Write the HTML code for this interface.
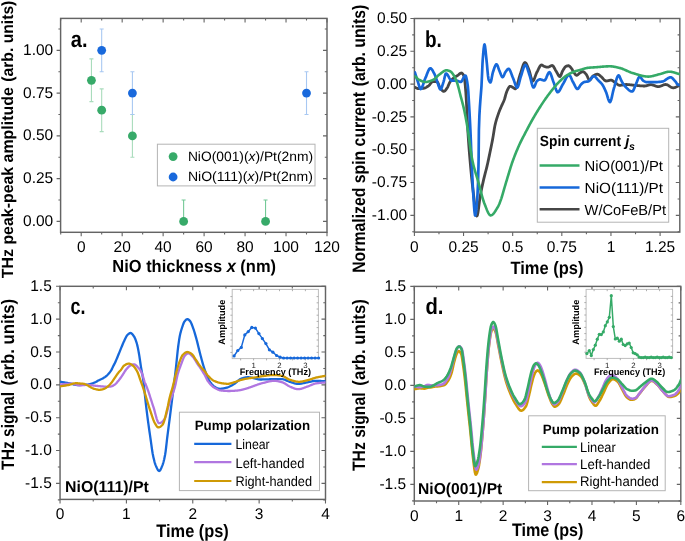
<!DOCTYPE html>
<html><head><meta charset="utf-8"><style>
html,body{margin:0;padding:0;background:#fff;overflow:hidden;}
svg{display:block;will-change:transform;}
text{font-family:"Liberation Sans",sans-serif;text-rendering:geometricPrecision;}
</style></head><body>
<svg width="685" height="541" viewBox="0 0 685 541">
<rect width="685" height="541" fill="#fff"/>
<rect x="60.6" y="18.4" width="266.4" height="213.9" fill="none" stroke="#646464" stroke-width="1.45"/>
<path d="M60.72,232.3 v2.2 M60.72,18.4 v2.2 M81.20,232.3 v4 M81.20,18.4 v4 M101.68,232.3 v2.2 M101.68,18.4 v2.2 M122.17,232.3 v4 M122.17,18.4 v4 M142.65,232.3 v2.2 M142.65,18.4 v2.2 M163.13,232.3 v4 M163.13,18.4 v4 M183.62,232.3 v2.2 M183.62,18.4 v2.2 M204.10,232.3 v4 M204.10,18.4 v4 M224.58,232.3 v2.2 M224.58,18.4 v2.2 M245.06,232.3 v4 M245.06,18.4 v4 M265.55,232.3 v2.2 M265.55,18.4 v2.2 M286.03,232.3 v4 M286.03,18.4 v4 M306.51,232.3 v2.2 M306.51,18.4 v2.2 M327.00,232.3 v4 M327.00,18.4 v4 M60.6,221.40 h-4 M327.0,221.40 h-4 M60.6,200.02 h-2.2 M327.0,200.02 h-2.2 M60.6,178.64 h-4 M327.0,178.64 h-4 M60.6,157.26 h-2.2 M327.0,157.26 h-2.2 M60.6,135.88 h-4 M327.0,135.88 h-4 M60.6,114.49 h-2.2 M327.0,114.49 h-2.2 M60.6,93.11 h-4 M327.0,93.11 h-4 M60.6,71.73 h-2.2 M327.0,71.73 h-2.2 M60.6,50.35 h-4 M327.0,50.35 h-4 M60.6,28.97 h-2.2 M327.0,28.97 h-2.2 " stroke="#646464" stroke-width="1.1" fill="none"/>
<text x="53.2" y="226.0" font-size="15.5" text-anchor="end" fill="#000" textLength="30.17" lengthAdjust="spacingAndGlyphs" >0.00</text>
<text x="53.2" y="183.23749999999998" font-size="15.5" text-anchor="end" fill="#000" textLength="30.17" lengthAdjust="spacingAndGlyphs" >0.25</text>
<text x="53.2" y="140.475" font-size="15.5" text-anchor="end" fill="#000" textLength="30.17" lengthAdjust="spacingAndGlyphs" >0.50</text>
<text x="53.2" y="97.71249999999998" font-size="15.5" text-anchor="end" fill="#000" textLength="30.17" lengthAdjust="spacingAndGlyphs" >0.75</text>
<text x="53.2" y="54.949999999999996" font-size="15.5" text-anchor="end" fill="#000" textLength="30.17" lengthAdjust="spacingAndGlyphs" >1.00</text>
<text x="81.2" y="251.5" font-size="15.5" text-anchor="middle" fill="#000" textLength="8.62" lengthAdjust="spacingAndGlyphs" >0</text>
<text x="122.166" y="251.5" font-size="15.5" text-anchor="middle" fill="#000" textLength="17.24" lengthAdjust="spacingAndGlyphs" >20</text>
<text x="163.132" y="251.5" font-size="15.5" text-anchor="middle" fill="#000" textLength="17.24" lengthAdjust="spacingAndGlyphs" >40</text>
<text x="204.09799999999998" y="251.5" font-size="15.5" text-anchor="middle" fill="#000" textLength="17.24" lengthAdjust="spacingAndGlyphs" >60</text>
<text x="245.06399999999996" y="251.5" font-size="15.5" text-anchor="middle" fill="#000" textLength="17.24" lengthAdjust="spacingAndGlyphs" >80</text>
<text x="286.03" y="251.5" font-size="15.5" text-anchor="middle" fill="#000" textLength="25.86" lengthAdjust="spacingAndGlyphs" >100</text>
<text x="326.996" y="251.5" font-size="15.5" text-anchor="middle" fill="#000" textLength="25.86" lengthAdjust="spacingAndGlyphs" >120</text>
<text x="112.30" y="271.7" font-size="17.4" fill="#000" font-weight="bold" textLength="163.73" lengthAdjust="spacingAndGlyphs">NiO thickness <tspan font-style="italic">x</tspan> (nm)</text>
<text x="0.00" y="0" font-size="16.2" transform="translate(12.9,278.2) rotate(-90)" font-weight="bold" textLength="190.97" lengthAdjust="spacingAndGlyphs">THz peak-peak amplitude</text>
<text x="0.00" y="0" font-size="16.2" transform="translate(12.9,81.7) rotate(-90)" font-weight="bold" textLength="81.03" lengthAdjust="spacingAndGlyphs">(arb. units)</text>
<text x="70.80" y="47.0" font-size="23" fill="#000" font-weight="bold" textLength="16.68" lengthAdjust="spacingAndGlyphs">a.</text>
<clipPath id="ca"><rect x="60.6" y="18.4" width="266.4" height="213.9"/></clipPath>
<g clip-path="url(#ca)">
<path d="M91.44,80.28 V58.90 M89.44,58.90 h4 M91.44,80.28 V101.67 M89.44,101.67 h4 " stroke="#a9dcbc" stroke-width="1.1" fill="none"/>
<path d="M101.68,110.22 V88.84 M99.68,88.84 h4 M101.68,110.22 V131.60 M99.68,131.60 h4 " stroke="#a9dcbc" stroke-width="1.1" fill="none"/>
<path d="M132.41,135.88 V114.49 M130.41,114.49 h4 M132.41,135.88 V157.26 M130.41,157.26 h4 " stroke="#a9dcbc" stroke-width="1.1" fill="none"/>
<path d="M183.62,221.40 V200.02 M181.62,200.02 h4 " stroke="#74c997" stroke-width="1.1" fill="none"/>
<path d="M265.55,221.40 V200.02 M263.55,200.02 h4 " stroke="#74c997" stroke-width="1.1" fill="none"/>
<path d="M101.68,50.35 V28.97 M99.68,28.97 h4 M101.68,50.35 V71.73 M99.68,71.73 h4 " stroke="#a8c8f2" stroke-width="1.1" fill="none"/>
<path d="M132.41,93.11 V71.73 M130.41,71.73 h4 M132.41,93.11 V114.49 M130.41,114.49 h4 " stroke="#a8c8f2" stroke-width="1.1" fill="none"/>
<path d="M306.51,93.11 V71.73 M304.51,71.73 h4 M306.51,93.11 V114.49 M304.51,114.49 h4 " stroke="#a8c8f2" stroke-width="1.1" fill="none"/>
<circle cx="91.44" cy="80.28" r="4.4" fill="#37aa69"/>
<circle cx="101.68" cy="110.22" r="4.4" fill="#37aa69"/>
<circle cx="132.41" cy="135.88" r="4.4" fill="#37aa69"/>
<circle cx="183.62" cy="221.40" r="4.4" fill="#37aa69"/>
<circle cx="265.55" cy="221.40" r="4.4" fill="#37aa69"/>
<circle cx="101.68" cy="50.35" r="4.4" fill="#1969dc"/>
<circle cx="132.41" cy="93.11" r="4.4" fill="#1969dc"/>
<circle cx="306.51" cy="93.11" r="4.4" fill="#1969dc"/>
</g>
<rect x="157.4" y="144.2" width="157.6" height="41.7" fill="#fff" stroke="#b4b4b4" stroke-width="1"/>
<circle cx="173.1" cy="156.6" r="4.4" fill="#37aa69"/>
<circle cx="173.1" cy="177" r="4.4" fill="#1969dc"/>
<text x="187.90" y="160.8" font-size="13.6" fill="#000" textLength="125.13" lengthAdjust="spacingAndGlyphs">NiO(001)(<tspan font-style="italic">x</tspan>)/Pt(2nm)</text>
<text x="187.90" y="180.9" font-size="13.6" fill="#000" textLength="125.08" lengthAdjust="spacingAndGlyphs">NiO(111)(<tspan font-style="italic">x</tspan>)/Pt(2nm)</text>
<rect x="414.4" y="18.5" width="265.4" height="213.6" fill="none" stroke="#646464" stroke-width="1.45"/>
<path d="M414.40,232.1 v4 M414.40,18.5 v4 M438.97,232.1 v2.2 M438.97,18.5 v2.2 M463.54,232.1 v4 M463.54,18.5 v4 M488.11,232.1 v2.2 M488.11,18.5 v2.2 M512.68,232.1 v4 M512.68,18.5 v4 M537.25,232.1 v2.2 M537.25,18.5 v2.2 M561.82,232.1 v4 M561.82,18.5 v4 M586.39,232.1 v2.2 M586.39,18.5 v2.2 M610.96,232.1 v4 M610.96,18.5 v4 M635.53,232.1 v2.2 M635.53,18.5 v2.2 M660.10,232.1 v4 M660.10,18.5 v4 M414.4,18.45 h-4 M679.8,18.45 h-4 M414.4,34.86 h-2.2 M679.8,34.86 h-2.2 M414.4,51.27 h-4 M679.8,51.27 h-4 M414.4,67.69 h-2.2 M679.8,67.69 h-2.2 M414.4,84.10 h-4 M679.8,84.10 h-4 M414.4,100.51 h-2.2 M679.8,100.51 h-2.2 M414.4,116.92 h-4 M679.8,116.92 h-4 M414.4,133.34 h-2.2 M679.8,133.34 h-2.2 M414.4,149.75 h-4 M679.8,149.75 h-4 M414.4,166.16 h-2.2 M679.8,166.16 h-2.2 M414.4,182.57 h-4 M679.8,182.57 h-4 M414.4,198.99 h-2.2 M679.8,198.99 h-2.2 M414.4,215.40 h-4 M679.8,215.40 h-4 M414.4,231.81 h-2.2 M679.8,231.81 h-2.2 " stroke="#646464" stroke-width="1.1" fill="none"/>
<text x="407.2" y="23.04999999999999" font-size="15.5" text-anchor="end" fill="#000" textLength="30.17" lengthAdjust="spacingAndGlyphs" >0.50</text>
<text x="407.2" y="55.87499999999999" font-size="15.5" text-anchor="end" fill="#000" textLength="30.17" lengthAdjust="spacingAndGlyphs" >0.25</text>
<text x="407.2" y="88.69999999999999" font-size="15.5" text-anchor="end" fill="#000" textLength="30.17" lengthAdjust="spacingAndGlyphs" >0.00</text>
<text x="407.2" y="121.52499999999999" font-size="15.5" text-anchor="end" fill="#000" textLength="35.33" lengthAdjust="spacingAndGlyphs" >-0.25</text>
<text x="407.2" y="154.35" font-size="15.5" text-anchor="end" fill="#000" textLength="35.33" lengthAdjust="spacingAndGlyphs" >-0.50</text>
<text x="407.2" y="187.17499999999998" font-size="15.5" text-anchor="end" fill="#000" textLength="35.33" lengthAdjust="spacingAndGlyphs" >-0.75</text>
<text x="407.2" y="220.0" font-size="15.5" text-anchor="end" fill="#000" textLength="35.33" lengthAdjust="spacingAndGlyphs" >-1.00</text>
<text x="414.4" y="251.5" font-size="15.5" text-anchor="middle" fill="#000" textLength="8.62" lengthAdjust="spacingAndGlyphs" >0</text>
<text x="463.53999999999996" y="251.5" font-size="15.5" text-anchor="middle" fill="#000" textLength="30.17" lengthAdjust="spacingAndGlyphs" >0.25</text>
<text x="512.68" y="251.5" font-size="15.5" text-anchor="middle" fill="#000" textLength="21.55" lengthAdjust="spacingAndGlyphs" >0.5</text>
<text x="561.8199999999999" y="251.5" font-size="15.5" text-anchor="middle" fill="#000" textLength="30.17" lengthAdjust="spacingAndGlyphs" >0.75</text>
<text x="610.96" y="251.5" font-size="15.5" text-anchor="middle" fill="#000" textLength="8.62" lengthAdjust="spacingAndGlyphs" >1</text>
<text x="660.0999999999999" y="251.5" font-size="15.5" text-anchor="middle" fill="#000" textLength="30.17" lengthAdjust="spacingAndGlyphs" >1.25</text>
<text x="510.50" y="274.0" font-size="17.9" fill="#000" font-weight="bold" textLength="73.03" lengthAdjust="spacingAndGlyphs">Time (ps)</text>
<text x="0.00" y="0" font-size="18.0" transform="translate(364.8,272.8) rotate(-90)" font-weight="bold" textLength="180.83" lengthAdjust="spacingAndGlyphs">Normalized spin current</text>
<text x="0.00" y="0" font-size="18.0" transform="translate(364.8,86.2) rotate(-90)" font-weight="bold" textLength="81.43" lengthAdjust="spacingAndGlyphs">(arb. units)</text>
<text x="425.00" y="46.9" font-size="23" fill="#000" font-weight="bold" textLength="16.87" lengthAdjust="spacingAndGlyphs">b.</text>
<clipPath id="cb"><rect x="414.4" y="18.5" width="265.4" height="213.6"/></clipPath>
<g clip-path="url(#cb)" fill="none" stroke-linejoin="round" stroke-linecap="round">
<path d="M414.90,87.40 L415.40,87.59 L415.90,87.81 L416.40,88.04 L416.90,88.25 L417.40,88.45 L417.90,88.60 L418.40,88.68 L418.70,88.70 L419.20,88.69 L419.70,88.68 L420.20,88.66 L420.70,88.62 L421.20,88.58 L421.70,88.53 L422.20,88.48 L422.70,88.42 L423.20,88.35 L423.60,88.30 L424.10,88.20 L424.60,88.06 L425.10,87.87 L425.60,87.64 L426.10,87.38 L426.60,87.10 L427.10,86.79 L427.60,86.47 L428.10,86.14 L428.60,85.80 L429.10,85.37 L429.60,84.81 L430.10,84.16 L430.60,83.48 L431.10,82.83 L431.60,82.27 L432.10,81.85 L432.60,81.62 L432.80,81.60 L433.30,81.60 L433.80,81.60 L434.30,81.60 L434.80,81.60 L435.30,81.60 L435.80,81.60 L436.30,81.60 L436.80,81.60 L436.90,81.60 L437.40,81.92 L437.90,82.74 L438.40,83.91 L438.90,85.23 L439.40,86.54 L439.90,87.66 L440.30,88.30 L440.80,88.92 L441.30,89.54 L441.80,90.12 L442.30,90.63 L442.80,91.04 L443.30,91.30 L443.80,91.40 L444.30,91.27 L444.80,90.93 L445.30,90.42 L445.80,89.80 L446.30,89.12 L446.80,88.43 L446.90,88.30 L447.40,87.51 L447.90,86.53 L448.40,85.43 L448.90,84.29 L449.40,83.20 L449.90,82.23 L450.30,81.60 L450.80,80.93 L451.30,80.31 L451.80,79.73 L452.30,79.20 L452.80,78.70 L453.30,78.24 L453.80,77.82 L454.20,77.50 L454.70,77.14 L455.20,76.82 L455.70,76.53 L456.20,76.25 L456.70,75.97 L457.20,75.68 L457.50,75.50 L458.00,75.15 L458.50,74.75 L459.00,74.32 L459.50,73.91 L460.00,73.53 L460.50,73.24 L461.00,73.05 L461.40,73.00 L461.90,73.13 L462.40,73.51 L462.90,74.13 L463.40,74.95 L463.90,75.97 L464.00,76.20 L464.50,78.66 L465.00,82.94 L465.30,85.90 L465.80,92.13 L466.30,100.13 L466.60,105.30 L467.10,115.51 L467.60,126.33 L467.80,130.00 L468.30,137.92 L468.80,145.06 L469.30,151.58 L469.80,157.66 L470.00,160.00 L470.50,165.70 L471.00,171.15 L471.50,176.34 L472.00,181.22 L472.50,185.78 L473.00,190.00 L473.50,194.24 L474.00,198.71 L474.50,203.16 L475.00,207.33 L475.50,210.95 L476.00,213.77 L476.50,215.53 L476.90,216.00 L477.40,215.16 L477.90,212.92 L478.40,209.68 L478.90,205.86 L479.40,201.86 L479.90,198.11 L480.40,195.00 L480.90,192.40 L481.40,189.90 L481.90,187.48 L482.40,185.14 L482.90,182.86 L483.40,180.64 L483.80,178.90 L484.30,176.81 L484.80,174.83 L485.30,172.91 L485.80,171.00 L486.30,169.08 L486.80,167.08 L487.20,165.40 L487.70,163.20 L488.20,160.91 L488.70,158.56 L489.20,156.16 L489.70,153.74 L490.10,151.80 L490.60,149.38 L491.10,146.96 L491.60,144.50 L492.10,141.98 L492.60,139.37 L492.80,138.30 L493.30,135.37 L493.80,132.20 L494.30,129.05 L494.80,126.23 L495.10,124.80 L495.60,122.75 L496.10,120.88 L496.60,119.17 L497.10,117.58 L497.60,116.08 L498.10,114.64 L498.50,113.50 L499.00,112.13 L499.50,110.83 L500.00,109.59 L500.50,108.39 L501.00,107.21 L501.30,106.50 L501.80,105.37 L502.30,104.30 L502.80,103.25 L503.30,102.17 L503.80,101.01 L504.20,100.00 L504.70,98.50 L505.20,96.76 L505.70,94.94 L506.20,93.20 L506.70,91.71 L507.00,91.00 L507.50,89.94 L508.00,88.90 L508.50,87.94 L509.00,87.13 L509.50,86.57 L510.00,86.31 L510.10,86.30 L510.60,86.36 L511.10,86.52 L511.60,86.75 L512.10,87.01 L512.60,87.29 L513.00,87.50 L513.50,87.82 L514.00,88.22 L514.50,88.60 L515.00,88.85 L515.30,88.90 L515.80,88.59 L516.30,87.73 L516.80,86.44 L517.30,84.82 L517.80,82.97 L518.30,81.02 L518.80,79.06 L519.30,77.21 L519.80,75.57 L520.00,75.00 L520.50,73.55 L521.00,71.96 L521.50,70.31 L522.00,68.65 L522.50,67.06 L523.00,65.60 L523.50,64.35 L524.00,63.37 L524.50,62.73 L525.00,62.50 L525.50,62.69 L526.00,63.23 L526.50,64.05 L527.00,65.07 L527.50,66.25 L528.00,67.51 L528.50,68.78 L529.00,70.00 L529.50,71.46 L530.00,73.34 L530.50,75.41 L531.00,77.46 L531.50,79.25 L532.00,80.57 L532.50,81.18 L532.60,81.20 L533.10,80.96 L533.60,80.30 L534.10,79.32 L534.60,78.11 L535.10,76.76 L535.60,75.36 L536.10,74.01 L536.60,72.80 L537.00,72.00 L537.50,71.05 L538.00,70.04 L538.50,69.00 L539.00,67.98 L539.50,67.04 L540.00,66.22 L540.50,65.57 L541.00,65.15 L541.50,65.00 L542.00,65.09 L542.50,65.32 L543.00,65.64 L543.50,65.98 L544.00,66.28 L544.50,66.50 L545.00,66.65 L545.50,66.81 L546.00,66.95 L546.50,67.06 L547.00,67.15 L547.50,67.20 L547.70,67.20 L548.20,67.14 L548.70,66.99 L549.20,66.76 L549.70,66.49 L550.20,66.21 L550.70,65.94 L551.20,65.71 L551.70,65.56 L552.20,65.50 L552.70,65.68 L553.20,66.16 L553.70,66.88 L554.20,67.75 L554.70,68.70 L555.20,69.65 L555.70,70.54 L556.00,71.00 L556.50,71.80 L557.00,72.71 L557.50,73.67 L558.00,74.59 L558.50,75.42 L559.00,76.07 L559.50,76.49 L559.90,76.60 L560.40,76.22 L560.90,75.26 L561.40,73.96 L561.90,72.58 L562.40,71.38 L562.60,71.00 L563.10,70.13 L563.60,69.26 L564.10,68.42 L564.60,67.68 L565.10,67.07 L565.60,66.66 L565.70,66.60 L566.20,66.35 L566.70,66.12 L567.20,65.93 L567.70,65.79 L568.20,65.71 L568.50,65.70 L569.00,65.82 L569.50,66.15 L570.00,66.63 L570.50,67.20 L571.00,67.81 L571.40,68.30 L571.90,69.01 L572.40,69.90 L572.90,70.86 L573.40,71.78 L573.90,72.57 L574.00,72.70 L574.50,73.36 L575.00,74.03 L575.50,74.64 L576.00,75.08 L576.50,75.29 L576.60,75.30 L577.10,75.19 L577.60,74.89 L578.10,74.47 L578.60,74.00 L579.10,73.54 L579.60,73.16 L579.70,73.10 L580.20,72.79 L580.70,72.47 L581.20,72.16 L581.70,71.89 L582.20,71.69 L582.70,71.60 L582.80,71.60 L583.30,71.69 L583.80,71.94 L584.30,72.33 L584.80,72.80 L585.30,73.35 L585.80,73.92 L586.30,74.50 L586.80,75.27 L587.30,76.33 L587.80,77.52 L588.30,78.65 L588.80,79.55 L589.30,80.05 L589.50,80.10 L590.00,79.91 L590.50,79.41 L591.00,78.71 L591.50,77.91 L592.00,77.12 L592.50,76.45 L593.00,76.00 L593.50,75.70 L594.00,75.40 L594.50,75.13 L595.00,74.87 L595.50,74.65 L596.00,74.46 L596.50,74.32 L597.00,74.23 L597.50,74.20 L598.00,74.28 L598.50,74.50 L599.00,74.83 L599.50,75.23 L600.00,75.67 L600.50,76.10 L601.00,76.50 L601.50,76.92 L602.00,77.42 L602.50,77.97 L603.00,78.55 L603.50,79.12 L604.00,79.66 L604.50,80.15 L605.00,80.55 L605.50,80.84 L606.00,80.99 L606.20,81.00 L606.70,80.97 L607.20,80.90 L607.70,80.80 L608.20,80.67 L608.70,80.54 L609.20,80.40 L609.70,80.28 L610.20,80.18 L610.70,80.12 L611.10,80.10 L611.60,80.17 L612.10,80.38 L612.60,80.68 L613.10,81.05 L613.60,81.45 L614.10,81.86 L614.60,82.24 L615.00,82.50 L615.50,82.83 L616.00,83.19 L616.50,83.57 L617.00,83.96 L617.50,84.33 L618.00,84.67 L618.50,84.95 L619.00,85.16 L619.50,85.28 L619.80,85.30 L620.30,85.29 L620.80,85.24 L621.30,85.18 L621.80,85.10 L622.30,85.01 L622.80,84.92 L623.30,84.82 L623.80,84.73 L624.30,84.65 L624.80,84.58 L625.30,84.53 L625.80,84.50 L626.00,84.50 L626.50,84.51 L627.00,84.52 L627.50,84.55 L628.00,84.58 L628.50,84.62 L629.00,84.67 L629.50,84.72 L630.00,84.77 L630.50,84.83 L631.00,84.89 L631.50,84.95 L632.00,85.01 L632.50,85.07 L633.00,85.13 L633.50,85.19 L634.00,85.24 L634.50,85.28 L634.70,85.30 L635.20,85.34 L635.70,85.38 L636.20,85.43 L636.70,85.48 L637.20,85.52 L637.70,85.57 L638.20,85.62 L638.70,85.66 L639.20,85.71 L639.70,85.75 L640.20,85.80 L640.70,85.83 L641.20,85.87 L641.70,85.90 L642.20,85.93 L642.70,85.96 L643.20,85.98 L643.70,85.99 L644.20,86.00 L644.60,86.00 L645.10,85.98 L645.60,85.91 L646.10,85.81 L646.60,85.68 L647.10,85.54 L647.60,85.38 L648.10,85.22 L648.60,85.07 L649.10,84.94 L649.60,84.83 L650.10,84.75 L650.60,84.70 L650.80,84.70 L651.30,84.72 L651.80,84.79 L652.30,84.90 L652.80,85.03 L653.30,85.19 L653.80,85.37 L654.30,85.56 L654.80,85.74 L655.30,85.93 L655.80,86.11 L656.30,86.27 L656.80,86.40 L657.30,86.51 L657.80,86.58 L658.30,86.60 L658.80,86.57 L659.30,86.50 L659.80,86.38 L660.30,86.22 L660.80,86.04 L661.30,85.84 L661.80,85.64 L662.30,85.42 L662.80,85.21 L663.30,85.02 L663.80,84.84 L664.30,84.70 L664.80,84.59 L665.30,84.52 L665.70,84.50 L666.20,84.54 L666.70,84.66 L667.20,84.84 L667.70,85.08 L668.20,85.36 L668.70,85.66 L669.20,85.99 L669.70,86.31 L670.20,86.64 L670.70,86.94 L671.20,87.22 L671.70,87.46 L672.20,87.64 L672.70,87.76 L673.20,87.80 L673.70,87.77 L674.20,87.69 L674.70,87.57 L675.20,87.41 L675.70,87.22 L676.20,87.00 L676.70,86.77 L677.20,86.52 L677.70,86.27 L678.20,86.02 L678.70,85.77 L679.20,85.55 L679.70,85.34 L679.80,85.30" stroke="#464646" stroke-width="2.8"/>
<path d="M414.90,72.50 L415.40,74.09 L415.90,75.71 L416.40,77.32 L416.90,78.91 L417.40,80.43 L417.80,81.60 L418.30,83.16 L418.80,84.88 L419.30,86.54 L419.80,87.93 L420.30,88.85 L420.70,89.10 L421.20,88.85 L421.70,88.16 L422.20,87.12 L422.70,85.81 L423.20,84.34 L423.70,82.78 L424.20,81.23 L424.70,79.78 L425.20,78.52 L425.30,78.30 L425.80,77.14 L426.30,75.88 L426.80,74.55 L427.30,73.22 L427.80,71.95 L428.30,70.78 L428.80,69.78 L429.30,68.99 L429.80,68.48 L430.30,68.30 L430.80,68.43 L431.30,68.79 L431.80,69.35 L432.30,70.06 L432.80,70.89 L433.30,71.80 L433.80,72.76 L434.30,73.72 L434.50,74.10 L435.00,75.18 L435.50,76.50 L436.00,77.98 L436.50,79.52 L437.00,81.06 L437.50,82.51 L437.80,83.30 L438.30,84.69 L438.80,86.22 L439.30,87.66 L439.80,88.80 L440.30,89.44 L440.50,89.50 L441.00,89.15 L441.50,88.20 L442.00,86.84 L442.50,85.22 L443.00,83.51 L443.50,81.90 L443.60,81.60 L444.10,79.78 L444.60,77.56 L445.10,75.45 L445.60,73.94 L446.00,73.50 L446.50,73.66 L447.00,74.09 L447.50,74.73 L448.00,75.54 L448.50,76.44 L449.00,77.38 L449.50,78.31 L450.00,79.16 L450.50,79.88 L451.00,80.40 L451.50,80.67 L451.70,80.70 L452.20,80.70 L452.70,80.70 L453.20,80.70 L453.70,80.70 L454.20,80.70 L454.70,80.70 L455.20,80.70 L455.70,80.70 L456.20,80.70 L456.70,80.70 L456.80,80.70 L457.30,80.76 L457.80,80.91 L458.30,81.13 L458.80,81.37 L459.30,81.62 L459.80,81.82 L460.30,81.96 L460.70,82.00 L461.20,81.79 L461.70,81.21 L462.20,80.38 L462.70,79.38 L463.20,78.33 L463.70,77.31 L464.20,76.44 L464.70,75.80 L465.20,75.51 L465.30,75.50 L465.80,76.03 L466.30,77.50 L466.80,79.75 L467.30,82.60 L467.80,85.90 L468.30,91.63 L468.80,100.08 L469.10,105.30 L469.60,114.06 L470.10,123.71 L470.40,130.00 L470.90,142.15 L471.40,155.17 L471.60,160.00 L472.10,171.75 L472.60,182.79 L473.00,190.00 L473.50,197.97 L474.00,205.65 L474.50,211.82 L475.00,215.26 L475.20,215.60 L475.70,214.32 L476.20,210.80 L476.70,205.49 L477.20,198.84 L477.50,194.40 L478.00,183.84 L478.50,165.05 L478.60,160.00 L478.90,130.00 L479.40,115.24 L479.90,106.86 L480.40,100.00 L480.90,93.60 L481.40,87.43 L481.50,85.90 L482.00,74.97 L482.50,63.23 L482.70,60.00 L483.20,53.77 L483.70,48.46 L484.20,45.12 L484.50,44.50 L485.00,46.13 L485.50,50.14 L486.00,55.21 L486.50,60.00 L487.00,64.97 L487.50,70.63 L488.00,75.74 L488.50,79.06 L488.60,79.40 L489.10,80.69 L489.60,81.70 L490.10,82.29 L490.40,82.40 L490.90,81.62 L491.40,79.65 L491.90,77.06 L492.40,74.43 L492.90,72.31 L493.00,72.00 L493.50,70.52 L494.00,69.00 L494.50,67.56 L495.00,66.27 L495.50,65.24 L496.00,64.55 L496.50,64.30 L497.00,64.65 L497.50,65.57 L498.00,66.86 L498.50,68.32 L499.00,69.77 L499.50,71.00 L500.00,72.17 L500.50,73.49 L501.00,74.79 L501.50,75.94 L502.00,76.79 L502.50,77.19 L502.60,77.20 L503.10,76.88 L503.60,76.07 L504.10,74.96 L504.60,73.75 L505.10,72.66 L505.50,72.00 L506.00,71.31 L506.50,70.61 L507.00,69.95 L507.50,69.39 L508.00,68.99 L508.50,68.81 L508.60,68.80 L509.10,69.02 L509.60,69.63 L510.10,70.54 L510.60,71.69 L511.10,73.00 L511.60,74.38 L512.10,75.76 L512.60,77.06 L513.00,78.00 L513.50,79.22 L514.00,80.64 L514.50,82.15 L515.00,83.66 L515.50,85.05 L516.00,86.23 L516.50,87.10 L517.00,87.56 L517.20,87.60 L517.70,87.21 L518.20,86.15 L518.70,84.60 L519.20,82.72 L519.70,80.70 L520.20,78.71 L520.70,76.91 L521.00,76.00 L521.50,74.51 L522.00,72.89 L522.50,71.21 L523.00,69.56 L523.50,68.03 L524.00,66.72 L524.50,65.70 L525.00,65.07 L525.40,64.90 L525.90,65.17 L526.40,65.91 L526.90,67.02 L527.40,68.40 L527.90,69.97 L528.40,71.60 L528.90,73.22 L529.40,74.72 L529.50,75.00 L530.00,76.56 L530.50,78.43 L531.00,80.44 L531.50,82.45 L532.00,84.31 L532.50,85.87 L533.00,86.98 L533.50,87.48 L533.60,87.50 L534.10,87.17 L534.60,86.32 L535.10,85.13 L535.60,83.80 L536.10,82.53 L536.60,81.51 L537.00,81.00 L537.50,80.60 L538.00,80.22 L538.50,79.89 L539.00,79.63 L539.50,79.46 L540.00,79.40 L540.50,79.44 L541.00,79.54 L541.50,79.70 L542.00,79.88 L542.50,80.06 L543.00,80.24 L543.50,80.38 L544.00,80.47 L544.40,80.50 L544.90,80.27 L545.40,79.64 L545.90,78.71 L546.40,77.58 L546.90,76.35 L547.40,75.12 L547.90,73.99 L548.40,73.06 L548.90,72.43 L549.40,72.20 L549.90,72.47 L550.40,73.22 L550.90,74.34 L551.40,75.72 L551.90,77.25 L552.40,78.84 L552.90,80.38 L553.40,81.75 L553.50,82.00 L554.00,83.33 L554.50,84.86 L555.00,86.47 L555.50,88.06 L556.00,89.53 L556.50,90.77 L557.00,91.68 L557.50,92.15 L557.70,92.20 L558.20,92.06 L558.70,91.67 L559.20,91.07 L559.70,90.29 L560.20,89.40 L560.70,88.42 L561.20,87.39 L561.70,86.37 L562.20,85.38 L562.70,84.48 L563.00,84.00 L563.50,83.18 L564.00,82.28 L564.50,81.31 L565.00,80.31 L565.50,79.32 L566.00,78.36 L566.50,77.46 L567.00,76.66 L567.50,75.98 L568.00,75.46 L568.50,75.12 L569.00,75.00 L569.50,75.21 L570.00,75.78 L570.50,76.64 L571.00,77.68 L571.50,78.82 L572.00,79.98 L572.50,81.07 L573.00,82.00 L573.50,82.89 L574.00,83.88 L574.50,84.91 L575.00,85.94 L575.50,86.90 L576.00,87.73 L576.50,88.40 L577.00,88.84 L577.50,89.00 L578.00,88.81 L578.50,88.30 L579.00,87.58 L579.50,86.74 L580.00,85.88 L580.50,85.10 L581.00,84.50 L581.50,84.02 L582.00,83.54 L582.50,83.09 L583.00,82.69 L583.50,82.35 L584.00,82.10 L584.30,82.00 L584.80,81.89 L585.30,81.81 L585.80,81.74 L586.30,81.69 L586.80,81.64 L587.30,81.57 L587.80,81.49 L588.20,81.40 L588.70,81.19 L589.20,80.82 L589.70,80.33 L590.20,79.76 L590.70,79.13 L591.20,78.49 L591.70,77.87 L592.20,77.29 L592.70,76.81 L593.20,76.45 L593.70,76.24 L594.00,76.20 L594.50,76.31 L595.00,76.61 L595.50,77.05 L596.00,77.60 L596.50,78.21 L597.00,78.84 L597.50,79.45 L598.00,80.00 L598.50,80.49 L599.00,80.97 L599.50,81.44 L600.00,81.93 L600.50,82.43 L601.00,82.96 L601.50,83.53 L602.00,84.16 L602.40,84.70 L602.90,85.47 L603.40,86.36 L603.90,87.34 L604.40,88.39 L604.90,89.50 L605.40,90.63 L605.90,91.77 L606.00,92.00 L606.50,93.32 L607.00,94.91 L607.50,96.62 L608.00,98.32 L608.50,99.86 L609.00,101.10 L609.50,101.89 L609.90,102.10 L610.40,101.69 L610.90,100.56 L611.40,98.88 L611.90,96.83 L612.40,94.58 L612.90,92.30 L613.40,90.15 L613.90,88.32 L614.00,88.00 L614.50,86.37 L615.00,84.60 L615.50,82.77 L616.00,80.97 L616.50,79.29 L617.00,77.80 L617.50,76.61 L618.00,75.78 L618.50,75.41 L618.60,75.40 L619.10,75.72 L619.60,76.55 L620.10,77.71 L620.60,78.99 L621.10,80.20 L621.50,81.00 L622.00,81.86 L622.50,82.71 L623.00,83.53 L623.50,84.31 L624.00,85.03 L624.50,85.67 L624.80,86.00 L625.30,86.53 L625.80,87.05 L626.30,87.58 L626.80,88.10 L627.30,88.60 L627.80,89.08 L628.30,89.54 L628.80,89.96 L629.30,90.35 L629.80,90.69 L630.30,90.98 L630.80,91.21 L631.30,91.38 L631.80,91.47 L632.20,91.50 L632.70,91.26 L633.20,90.60 L633.70,89.63 L634.20,88.44 L634.70,87.15 L635.20,85.85 L635.70,84.64 L636.00,84.00 L636.50,82.89 L637.00,81.61 L637.50,80.28 L638.00,79.01 L638.50,77.91 L639.00,77.08 L639.50,76.64 L639.70,76.60 L640.20,76.80 L640.70,77.33 L641.20,78.05 L641.70,78.86 L642.20,79.64 L642.70,80.25 L643.00,80.50 L643.50,80.81 L644.00,81.11 L644.50,81.39 L645.00,81.65 L645.50,81.86 L646.00,82.03 L646.50,82.15 L647.00,82.20 L647.10,82.20 L647.60,82.20 L648.10,82.20 L648.60,82.20 L649.10,82.20 L649.60,82.20 L650.10,82.20 L650.60,82.20 L651.10,82.20 L651.60,82.20 L652.10,82.20 L652.60,82.20 L653.10,82.20 L653.30,82.20 L653.80,82.20 L654.30,82.19 L654.80,82.18 L655.30,82.16 L655.80,82.14 L656.30,82.12 L656.80,82.09 L657.30,82.06 L657.80,82.02 L658.30,81.98 L658.80,81.94 L659.30,81.89 L659.80,81.84 L660.30,81.79 L660.80,81.74 L661.30,81.68 L661.80,81.62 L662.00,81.60 L662.50,81.51 L663.00,81.35 L663.50,81.14 L664.00,80.88 L664.50,80.59 L665.00,80.26 L665.50,79.92 L666.00,79.57 L666.50,79.21 L667.00,78.86 L667.50,78.53 L668.00,78.22 L668.50,77.94 L669.00,77.70 L669.50,77.51 L670.00,77.37 L670.50,77.31 L670.70,77.30 L671.20,77.39 L671.70,77.63 L672.20,77.99 L672.70,78.45 L673.20,78.98 L673.70,79.55 L674.20,80.13 L674.70,80.69 L675.00,81.00 L675.50,81.59 L676.00,82.31 L676.50,83.06 L677.00,83.76 L677.50,84.32 L678.00,84.66 L678.10,84.70 L678.60,84.82 L679.10,84.90 L679.60,84.97 L679.80,85.00" stroke="#1668da" stroke-width="2.7"/>
<path d="M414.90,76.20 L415.40,76.63 L415.90,77.08 L416.40,77.55 L416.90,78.02 L417.40,78.47 L417.90,78.90 L418.40,79.30 L418.90,79.65 L419.40,79.95 L419.50,80.00 L420.00,80.25 L420.50,80.50 L421.00,80.74 L421.50,80.97 L422.00,81.19 L422.50,81.40 L423.00,81.58 L423.50,81.73 L424.00,81.86 L424.50,81.94 L425.00,81.99 L425.30,82.00 L425.80,81.99 L426.30,81.95 L426.80,81.89 L427.30,81.81 L427.80,81.71 L428.30,81.59 L428.80,81.46 L429.30,81.31 L429.80,81.15 L430.30,80.97 L430.80,80.79 L431.30,80.60 L431.80,80.40 L432.30,80.20 L432.80,80.00 L433.30,79.76 L433.80,79.45 L434.30,79.09 L434.80,78.69 L435.30,78.24 L435.80,77.78 L436.30,77.29 L436.80,76.80 L437.30,76.31 L437.80,75.83 L438.30,75.37 L438.80,74.95 L439.30,74.57 L439.40,74.50 L439.90,74.14 L440.40,73.76 L440.90,73.37 L441.40,72.97 L441.90,72.58 L442.40,72.19 L442.90,71.82 L443.40,71.47 L443.90,71.16 L444.40,70.88 L444.90,70.65 L445.40,70.47 L445.90,70.35 L446.40,70.30 L446.50,70.30 L447.00,70.32 L447.50,70.40 L448.00,70.51 L448.50,70.65 L449.00,70.83 L449.50,71.04 L450.00,71.26 L450.50,71.50 L451.00,71.83 L451.50,72.29 L452.00,72.87 L452.50,73.52 L453.00,74.20 L453.50,74.94 L454.00,75.78 L454.50,76.71 L455.00,77.72 L455.50,78.81 L456.00,79.98 L456.50,81.22 L456.80,82.00 L457.30,83.43 L457.80,85.07 L458.30,86.87 L458.80,88.78 L459.30,90.76 L459.80,92.77 L460.30,94.76 L460.70,96.30 L461.20,98.17 L461.70,100.03 L462.20,101.90 L462.70,103.81 L463.20,105.79 L463.70,107.88 L464.00,109.20 L464.50,111.51 L465.00,113.97 L465.50,116.54 L466.00,119.22 L466.50,121.99 L467.00,124.84 L467.20,126.00 L467.70,129.07 L468.20,132.42 L468.70,135.96 L469.20,139.62 L469.70,143.31 L470.20,146.96 L470.70,150.48 L471.20,153.80 L471.70,156.84 L472.20,159.52 L472.30,160.00 L472.80,162.29 L473.30,164.43 L473.80,166.44 L474.30,168.33 L474.80,170.13 L475.30,171.86 L475.80,173.53 L476.30,175.18 L476.80,176.81 L477.30,178.45 L477.80,180.12 L478.30,181.84 L478.60,182.90 L479.10,184.74 L479.60,186.63 L480.10,188.57 L480.60,190.52 L481.10,192.47 L481.60,194.39 L482.10,196.25 L482.60,198.04 L483.10,199.73 L483.60,201.30 L484.10,202.73 L484.40,203.50 L484.90,204.76 L485.40,206.06 L485.90,207.36 L486.40,208.64 L486.90,209.89 L487.40,211.06 L487.90,212.15 L488.40,213.12 L488.90,213.95 L489.40,214.62 L489.90,215.09 L490.40,215.36 L490.70,215.40 L491.20,215.33 L491.70,215.15 L492.20,214.84 L492.70,214.44 L493.20,213.95 L493.70,213.37 L494.20,212.73 L494.70,212.02 L495.20,211.27 L495.70,210.48 L496.20,209.66 L496.70,208.83 L497.20,208.00 L497.70,207.16 L497.80,207.00 L498.30,206.10 L498.80,205.06 L499.30,203.91 L499.80,202.66 L500.30,201.35 L500.80,200.00 L501.30,198.56 L501.80,197.00 L502.30,195.35 L502.80,193.62 L503.30,191.86 L503.80,190.10 L504.30,188.36 L504.70,187.00 L505.20,185.33 L505.70,183.66 L506.20,181.98 L506.70,180.30 L507.20,178.63 L507.70,176.97 L508.20,175.31 L508.60,174.00 L509.10,172.35 L509.60,170.69 L510.10,169.04 L510.60,167.41 L511.10,165.82 L511.60,164.29 L511.80,163.70 L512.30,162.26 L512.80,160.85 L513.30,159.49 L513.80,158.15 L514.30,156.84 L514.80,155.56 L515.30,154.30 L515.70,153.30 L516.20,152.07 L516.70,150.85 L517.20,149.66 L517.70,148.48 L518.20,147.32 L518.70,146.18 L519.20,145.07 L519.70,143.97 L520.20,142.90 L520.70,141.86 L521.20,140.84 L521.70,139.85 L522.20,138.87 L522.70,137.91 L523.20,136.96 L523.70,136.01 L524.20,135.05 L524.70,134.09 L524.80,133.90 L525.30,132.93 L525.80,131.96 L526.30,131.00 L526.80,130.03 L527.30,129.08 L527.80,128.12 L528.30,127.18 L528.50,126.80 L529.00,125.86 L529.50,124.93 L530.00,123.99 L530.50,123.07 L531.00,122.15 L531.50,121.25 L532.00,120.35 L532.20,120.00 L532.70,119.12 L533.20,118.25 L533.70,117.39 L534.20,116.54 L534.70,115.69 L535.20,114.84 L535.70,114.01 L536.20,113.18 L536.70,112.35 L537.20,111.54 L537.70,110.72 L538.20,109.92 L538.70,109.12 L538.90,108.80 L539.40,108.01 L539.90,107.22 L540.40,106.43 L540.90,105.66 L541.40,104.88 L541.90,104.11 L542.40,103.35 L542.90,102.60 L543.40,101.85 L543.90,101.11 L544.40,100.38 L544.90,99.66 L545.40,98.94 L545.50,98.80 L546.00,98.10 L546.50,97.40 L547.00,96.71 L547.50,96.02 L548.00,95.34 L548.50,94.67 L549.00,94.01 L549.50,93.35 L550.00,92.69 L550.50,92.05 L551.00,91.41 L551.50,90.78 L552.00,90.15 L552.20,89.90 L552.70,89.28 L553.20,88.66 L553.70,88.04 L554.20,87.42 L554.70,86.81 L555.20,86.20 L555.70,85.61 L556.20,85.02 L556.70,84.45 L557.20,83.89 L557.70,83.34 L558.20,82.81 L558.70,82.30 L558.80,82.20 L559.30,81.70 L559.80,81.21 L560.30,80.73 L560.80,80.25 L561.30,79.78 L561.80,79.31 L562.30,78.86 L562.80,78.41 L563.30,77.98 L563.80,77.56 L564.30,77.16 L564.80,76.77 L565.30,76.39 L565.80,76.03 L566.30,75.69 L566.60,75.50 L567.10,75.19 L567.60,74.88 L568.10,74.58 L568.60,74.29 L569.10,74.00 L569.60,73.73 L570.10,73.46 L570.60,73.20 L571.10,72.96 L571.60,72.72 L572.10,72.49 L572.60,72.27 L573.10,72.06 L573.60,71.86 L574.10,71.67 L574.30,71.60 L574.80,71.43 L575.30,71.27 L575.80,71.12 L576.30,70.97 L576.80,70.84 L577.30,70.70 L577.80,70.57 L578.30,70.45 L578.80,70.32 L579.30,70.19 L579.80,70.05 L580.00,70.00 L580.50,69.86 L581.00,69.71 L581.50,69.56 L582.00,69.40 L582.50,69.24 L583.00,69.08 L583.50,68.92 L584.00,68.77 L584.50,68.61 L585.00,68.47 L585.50,68.33 L586.00,68.21 L586.50,68.09 L587.00,67.99 L587.50,67.90 L588.00,67.82 L588.20,67.80 L588.70,67.75 L589.20,67.70 L589.70,67.65 L590.20,67.61 L590.70,67.57 L591.20,67.54 L591.70,67.51 L592.20,67.48 L592.70,67.45 L593.20,67.42 L593.70,67.39 L594.20,67.35 L594.70,67.32 L595.00,67.30 L595.50,67.26 L596.00,67.23 L596.50,67.19 L597.00,67.14 L597.50,67.10 L598.00,67.06 L598.50,67.02 L599.00,66.97 L599.50,66.93 L600.00,66.88 L600.50,66.84 L601.00,66.79 L601.50,66.75 L602.00,66.71 L602.50,66.66 L603.00,66.62 L603.50,66.58 L604.00,66.55 L604.50,66.51 L605.00,66.48 L605.50,66.45 L606.00,66.42 L606.50,66.39 L607.00,66.37 L607.50,66.35 L608.00,66.33 L608.50,66.32 L609.00,66.31 L609.50,66.30 L609.90,66.30 L610.40,66.31 L610.90,66.33 L611.40,66.36 L611.90,66.40 L612.40,66.46 L612.90,66.52 L613.40,66.60 L613.90,66.68 L614.40,66.77 L614.90,66.87 L615.40,66.97 L615.90,67.08 L616.40,67.19 L616.90,67.31 L617.40,67.42 L617.90,67.54 L618.40,67.66 L618.90,67.78 L619.40,67.90 L619.80,68.00 L620.30,68.13 L620.80,68.27 L621.30,68.42 L621.80,68.59 L622.30,68.78 L622.80,68.97 L623.30,69.17 L623.80,69.38 L624.30,69.59 L624.80,69.82 L625.30,70.04 L625.80,70.27 L626.30,70.50 L626.80,70.73 L627.30,70.96 L627.80,71.19 L628.30,71.41 L628.80,71.63 L629.30,71.85 L629.80,72.05 L630.30,72.25 L630.80,72.44 L631.30,72.61 L631.80,72.78 L632.20,72.90 L632.70,73.05 L633.20,73.20 L633.70,73.35 L634.20,73.51 L634.70,73.66 L635.20,73.82 L635.70,73.97 L636.20,74.13 L636.70,74.29 L637.20,74.44 L637.70,74.59 L638.20,74.74 L638.70,74.89 L639.20,75.04 L639.70,75.18 L640.20,75.32 L640.70,75.45 L641.20,75.58 L641.70,75.70 L642.20,75.82 L642.70,75.93 L643.20,76.03 L643.70,76.13 L644.20,76.22 L644.70,76.30 L645.20,76.37 L645.70,76.44 L646.20,76.49 L646.70,76.53 L647.20,76.57 L647.70,76.59 L648.20,76.60 L648.40,76.60 L648.90,76.59 L649.40,76.56 L649.90,76.52 L650.40,76.46 L650.90,76.39 L651.40,76.31 L651.90,76.21 L652.40,76.10 L652.90,75.99 L653.40,75.87 L653.90,75.74 L654.40,75.60 L654.90,75.46 L655.40,75.32 L655.90,75.18 L656.40,75.03 L656.90,74.89 L657.40,74.75 L657.90,74.61 L658.40,74.47 L658.90,74.34 L659.40,74.22 L659.50,74.20 L660.00,74.08 L660.50,73.94 L661.00,73.80 L661.50,73.64 L662.00,73.48 L662.50,73.32 L663.00,73.15 L663.50,72.99 L664.00,72.82 L664.50,72.66 L665.00,72.50 L665.50,72.36 L666.00,72.22 L666.50,72.09 L667.00,71.98 L667.50,71.89 L668.00,71.81 L668.50,71.75 L669.00,71.71 L669.50,71.70 L670.00,71.71 L670.50,71.74 L671.00,71.80 L671.50,71.87 L672.00,71.96 L672.50,72.06 L673.00,72.18 L673.50,72.31 L674.00,72.45 L674.50,72.59 L675.00,72.75 L675.50,72.90 L676.00,73.06 L676.50,73.22 L677.00,73.39 L677.50,73.54 L678.00,73.70 L678.50,73.85 L679.00,73.99 L679.50,74.13 L679.80,74.20" stroke="#35aa67" stroke-width="2.6"/>
</g>
<rect x="537.3" y="128.3" width="131.4" height="93.9" fill="#fff" stroke="#b4b4b4" stroke-width="1"/>
<text x="539.80" y="145.9" font-size="14.7" fill="#000" font-weight="bold" textLength="81.20" lengthAdjust="spacingAndGlyphs">Spin current</text>
<text x="625.2" y="145.9" font-size="14.7" font-weight="bold" font-style="italic">j</text>
<text x="628.9" y="150.3" font-size="10.6" font-weight="bold" font-style="italic">s</text>
<path d="M539.6,165.6 H579.5" stroke="#35aa67" stroke-width="2.5"/>
<text x="584.60" y="171.4" font-size="14.7" fill="#000" textLength="78.39" lengthAdjust="spacingAndGlyphs">NiO(001)/Pt</text>
<path d="M539.6,187.6 H579.5" stroke="#1668da" stroke-width="2.5"/>
<text x="584.60" y="193.4" font-size="14.7" fill="#000" textLength="78.42" lengthAdjust="spacingAndGlyphs">NiO(111)/Pt</text>
<path d="M539.6,209.3 H579.5" stroke="#464646" stroke-width="2.5"/>
<text x="584.60" y="215.4" font-size="14.7" fill="#000" textLength="81.43" lengthAdjust="spacingAndGlyphs">W/CoFeB/Pt</text>
<rect x="60.05" y="286.3" width="265.45" height="213.09999999999997" fill="none" stroke="#646464" stroke-width="1.45"/>
<path d="M60.05,499.4 v4 M60.05,286.3 v4 M93.23,499.4 v2.2 M93.23,286.3 v2.2 M126.41,499.4 v4 M126.41,286.3 v4 M159.59,499.4 v2.2 M159.59,286.3 v2.2 M192.77,499.4 v4 M192.77,286.3 v4 M225.95,499.4 v2.2 M225.95,286.3 v2.2 M259.13,499.4 v4 M259.13,286.3 v4 M292.31,499.4 v2.2 M292.31,286.3 v2.2 M325.49,499.4 v4 M325.49,286.3 v4 M60.05,286.30 h-4 M325.5,286.30 h-4 M60.05,302.73 h-2.2 M325.5,302.73 h-2.2 M60.05,319.15 h-4 M325.5,319.15 h-4 M60.05,335.58 h-2.2 M325.5,335.58 h-2.2 M60.05,352.00 h-4 M325.5,352.00 h-4 M60.05,368.43 h-2.2 M325.5,368.43 h-2.2 M60.05,384.85 h-4 M325.5,384.85 h-4 M60.05,401.28 h-2.2 M325.5,401.28 h-2.2 M60.05,417.70 h-4 M325.5,417.70 h-4 M60.05,434.12 h-2.2 M325.5,434.12 h-2.2 M60.05,450.55 h-4 M325.5,450.55 h-4 M60.05,466.98 h-2.2 M325.5,466.98 h-2.2 M60.05,483.40 h-4 M325.5,483.40 h-4 M60.05,499.83 h-2.2 M325.5,499.83 h-2.2 " stroke="#646464" stroke-width="1.1" fill="none"/>
<text x="51.8" y="290.90000000000003" font-size="15.5" text-anchor="end" fill="#000" textLength="21.55" lengthAdjust="spacingAndGlyphs" >1.5</text>
<text x="51.8" y="323.75000000000006" font-size="15.5" text-anchor="end" fill="#000" textLength="21.55" lengthAdjust="spacingAndGlyphs" >1.0</text>
<text x="51.8" y="356.6" font-size="15.5" text-anchor="end" fill="#000" textLength="21.55" lengthAdjust="spacingAndGlyphs" >0.5</text>
<text x="51.8" y="389.45000000000005" font-size="15.5" text-anchor="end" fill="#000" textLength="21.55" lengthAdjust="spacingAndGlyphs" >0.0</text>
<text x="51.8" y="422.30000000000007" font-size="15.5" text-anchor="end" fill="#000" textLength="26.71" lengthAdjust="spacingAndGlyphs" >-0.5</text>
<text x="51.8" y="455.15000000000003" font-size="15.5" text-anchor="end" fill="#000" textLength="26.71" lengthAdjust="spacingAndGlyphs" >-1.0</text>
<text x="51.8" y="488.00000000000006" font-size="15.5" text-anchor="end" fill="#000" textLength="26.71" lengthAdjust="spacingAndGlyphs" >-1.5</text>
<text x="60.05" y="519.2" font-size="15.5" text-anchor="middle" fill="#000" textLength="8.62" lengthAdjust="spacingAndGlyphs" >0</text>
<text x="126.41" y="519.2" font-size="15.5" text-anchor="middle" fill="#000" textLength="8.62" lengthAdjust="spacingAndGlyphs" >1</text>
<text x="192.76999999999998" y="519.2" font-size="15.5" text-anchor="middle" fill="#000" textLength="8.62" lengthAdjust="spacingAndGlyphs" >2</text>
<text x="259.13" y="519.2" font-size="15.5" text-anchor="middle" fill="#000" textLength="8.62" lengthAdjust="spacingAndGlyphs" >3</text>
<text x="325.49" y="519.2" font-size="15.5" text-anchor="middle" fill="#000" textLength="8.62" lengthAdjust="spacingAndGlyphs" >4</text>
<text x="156.30" y="536.6" font-size="18.0" fill="#000" font-weight="bold" textLength="72.53" lengthAdjust="spacingAndGlyphs">Time (ps)</text>
<text x="0.00" y="0" font-size="18.0" transform="translate(13.9,469.9) rotate(-90)" font-weight="bold" textLength="78.01" lengthAdjust="spacingAndGlyphs">THz signal</text>
<text x="0.00" y="0" font-size="18.0" transform="translate(13.9,385.4) rotate(-90)" font-weight="bold" textLength="86.53" lengthAdjust="spacingAndGlyphs">(arb. units)</text>
<text x="70.60" y="313.5" font-size="23" fill="#000" font-weight="bold" textLength="14.88" lengthAdjust="spacingAndGlyphs">c.</text>
<text x="65.10" y="491.9" font-size="15.8" fill="#000" font-weight="bold" textLength="83.70" lengthAdjust="spacingAndGlyphs">NiO(111)/Pt</text>
<clipPath id="cc"><rect x="60.05" y="286.3" width="265.45" height="213.09999999999997"/></clipPath>
<g clip-path="url(#cc)" fill="none" stroke-linejoin="round" stroke-linecap="round">
<path d="M60.60,381.80 L61.10,381.88 L61.60,381.96 L62.10,382.05 L62.60,382.13 L63.10,382.21 L63.60,382.29 L64.10,382.37 L64.60,382.45 L65.10,382.53 L65.60,382.61 L66.10,382.69 L66.60,382.78 L67.10,382.87 L67.60,382.95 L68.10,383.04 L68.40,383.10 L68.90,383.20 L69.40,383.31 L69.90,383.43 L70.40,383.56 L70.90,383.70 L71.40,383.84 L71.90,383.98 L72.40,384.12 L72.90,384.26 L73.40,384.39 L73.90,384.52 L74.40,384.63 L74.90,384.73 L75.40,384.82 L75.90,384.90 L76.40,384.95 L76.90,384.99 L77.40,385.00 L77.90,385.00 L78.40,385.00 L78.90,385.00 L79.40,384.99 L79.90,384.99 L80.40,384.98 L80.90,384.97 L81.40,384.97 L81.90,384.96 L82.40,384.95 L82.90,384.94 L83.40,384.93 L83.90,384.91 L84.40,384.90 L84.90,384.88 L85.40,384.84 L85.90,384.79 L86.40,384.73 L86.90,384.67 L87.40,384.60 L87.90,384.53 L88.40,384.44 L88.90,384.34 L89.40,384.23 L89.90,384.11 L90.40,383.99 L90.90,383.85 L91.10,383.80 L91.60,383.65 L92.10,383.49 L92.60,383.31 L93.10,383.12 L93.60,382.91 L94.10,382.70 L94.60,382.49 L94.80,382.40 L95.30,382.17 L95.80,381.93 L96.30,381.67 L96.80,381.40 L97.30,381.13 L97.80,380.86 L98.30,380.60 L98.50,380.50 L99.00,380.26 L99.50,380.02 L100.00,379.78 L100.50,379.55 L101.00,379.31 L101.50,379.07 L102.00,378.81 L102.20,378.70 L102.70,378.43 L103.20,378.15 L103.70,377.86 L104.20,377.56 L104.70,377.25 L105.20,376.91 L105.70,376.55 L105.90,376.40 L106.40,375.99 L106.90,375.53 L107.40,375.03 L107.90,374.50 L108.40,373.95 L108.80,373.50 L109.30,372.92 L109.80,372.32 L110.30,371.67 L110.80,370.96 L111.10,370.50 L111.60,369.62 L112.10,368.62 L112.60,367.56 L113.10,366.51 L113.30,366.10 L113.80,365.11 L114.30,364.14 L114.80,363.15 L115.30,362.13 L115.50,361.70 L116.00,360.58 L116.50,359.41 L117.00,358.20 L117.50,356.98 L117.70,356.50 L118.20,355.29 L118.70,354.05 L119.20,352.81 L119.70,351.57 L120.20,350.32 L120.70,349.09 L121.20,347.88 L121.40,347.40 L121.90,346.20 L122.40,344.99 L122.90,343.80 L123.40,342.64 L123.90,341.53 L124.20,340.90 L124.70,339.84 L125.20,338.76 L125.70,337.71 L126.20,336.73 L126.70,335.88 L127.20,335.21 L127.40,335.00 L127.90,334.53 L128.40,334.07 L128.90,333.67 L129.40,333.34 L129.90,333.11 L130.40,333.00 L130.50,333.00 L131.00,333.10 L131.50,333.39 L132.00,333.83 L132.50,334.39 L133.00,335.02 L133.50,335.69 L133.80,336.10 L134.30,336.88 L134.80,337.86 L135.30,339.02 L135.80,340.33 L136.30,341.78 L136.60,342.70 L137.10,344.48 L137.60,346.63 L138.10,349.04 L138.60,351.63 L138.80,352.70 L139.30,355.66 L139.80,358.99 L140.30,362.47 L140.80,365.84 L141.00,367.10 L141.50,369.99 L142.00,372.68 L142.50,375.40 L143.00,378.39 L143.30,380.40 L143.80,384.36 L144.30,388.95 L144.80,393.86 L145.30,398.75 L145.80,403.30 L146.30,407.52 L146.80,411.63 L147.30,415.62 L147.80,419.49 L148.00,421.00 L148.50,424.69 L149.00,428.27 L149.50,431.76 L150.00,435.20 L150.50,438.63 L150.70,440.00 L151.20,443.57 L151.70,447.24 L152.20,450.73 L152.70,453.77 L152.90,454.80 L153.40,457.15 L153.90,459.34 L154.40,461.34 L154.90,463.12 L155.40,464.65 L155.90,465.90 L156.40,467.01 L156.90,468.09 L157.40,469.08 L157.90,469.93 L158.40,470.57 L158.90,470.94 L159.20,471.00 L159.70,470.79 L160.20,470.20 L160.70,469.33 L161.20,468.27 L161.70,467.10 L162.20,465.90 L162.70,464.59 L163.20,463.03 L163.70,461.22 L164.20,459.15 L164.70,456.83 L165.10,454.80 L165.60,451.58 L166.10,447.50 L166.60,443.03 L167.10,438.63 L167.30,437.00 L167.80,433.09 L168.30,429.25 L168.80,425.42 L169.30,421.56 L169.50,420.00 L170.00,416.06 L170.50,412.09 L171.00,408.10 L171.50,404.10 L171.60,403.30 L172.10,399.29 L172.60,395.27 L173.10,391.24 L173.50,388.00 L174.00,383.98 L174.50,379.98 L175.00,375.92 L175.50,371.73 L175.70,370.00 L176.20,365.36 L176.70,360.39 L177.20,355.39 L177.70,350.65 L178.20,346.50 L178.70,342.83 L179.20,339.44 L179.70,336.49 L180.00,335.00 L180.50,332.86 L181.00,330.97 L181.50,329.29 L182.00,327.76 L182.40,326.60 L182.90,325.16 L183.40,323.76 L183.90,322.55 L184.40,321.64 L184.50,321.50 L185.00,320.88 L185.50,320.30 L186.00,319.79 L186.50,319.41 L187.00,319.16 L187.40,319.10 L187.90,319.20 L188.40,319.47 L188.90,319.87 L189.40,320.36 L189.90,320.89 L190.00,321.00 L190.50,321.69 L191.00,322.63 L191.50,323.76 L192.00,325.03 L192.50,326.38 L193.00,327.76 L193.20,328.30 L193.70,329.72 L194.20,331.25 L194.70,332.89 L195.20,334.60 L195.70,336.37 L196.20,338.17 L196.70,340.00 L197.20,341.90 L197.70,343.90 L198.20,345.98 L198.70,348.07 L199.20,350.14 L199.70,352.15 L200.00,353.30 L200.50,355.19 L201.00,357.08 L201.50,358.95 L202.00,360.79 L202.50,362.59 L203.00,364.34 L203.50,366.01 L204.00,367.60 L204.40,368.80 L204.90,370.26 L205.40,371.70 L205.90,373.10 L206.40,374.46 L206.90,375.76 L207.40,376.98 L207.90,378.10 L208.40,379.11 L208.90,380.00 L209.40,380.81 L209.90,381.58 L210.40,382.33 L210.90,383.04 L211.40,383.70 L211.90,384.32 L212.40,384.89 L212.90,385.41 L213.40,385.87 L213.90,386.27 L214.40,386.60 L214.90,386.90 L215.40,387.19 L215.90,387.47 L216.40,387.73 L216.90,387.98 L217.40,388.20 L217.90,388.40 L218.40,388.56 L218.90,388.68 L219.40,388.76 L219.90,388.80 L220.00,388.80 L220.50,388.79 L221.00,388.76 L221.50,388.72 L222.00,388.66 L222.50,388.59 L223.00,388.51 L223.50,388.42 L224.00,388.31 L224.50,388.20 L225.00,388.09 L225.50,387.97 L226.00,387.85 L226.50,387.72 L226.60,387.70 L227.10,387.56 L227.60,387.40 L228.10,387.22 L228.60,387.02 L229.10,386.80 L229.60,386.56 L230.10,386.31 L230.60,386.05 L231.10,385.77 L231.60,385.49 L232.10,385.19 L232.60,384.89 L233.10,384.59 L233.60,384.29 L234.10,383.98 L234.40,383.80 L234.90,383.47 L235.40,383.10 L235.90,382.70 L236.40,382.27 L236.90,381.82 L237.40,381.37 L237.90,380.92 L238.40,380.49 L238.90,380.08 L239.40,379.69 L239.90,379.36 L240.40,379.07 L240.90,378.84 L241.00,378.80 L241.50,378.62 L242.00,378.44 L242.50,378.27 L243.00,378.10 L243.50,377.94 L244.00,377.79 L244.50,377.66 L245.00,377.53 L245.50,377.43 L246.00,377.34 L246.50,377.27 L247.00,377.22 L247.50,377.20 L247.70,377.20 L248.20,377.21 L248.70,377.24 L249.20,377.30 L249.70,377.36 L250.20,377.44 L250.70,377.54 L251.20,377.64 L251.70,377.74 L252.20,377.85 L252.70,377.97 L253.20,378.08 L253.70,378.18 L254.20,378.28 L254.30,378.30 L254.80,378.40 L255.30,378.52 L255.80,378.66 L256.30,378.80 L256.80,378.94 L257.30,379.07 L257.80,379.20 L258.30,379.31 L258.80,379.40 L259.30,379.46 L259.80,379.50 L260.00,379.50 L260.50,379.50 L261.00,379.50 L261.50,379.49 L262.00,379.48 L262.50,379.47 L263.00,379.46 L263.50,379.45 L264.00,379.44 L264.50,379.43 L265.00,379.41 L265.50,379.40 L266.00,379.38 L266.50,379.36 L267.00,379.35 L267.50,379.33 L268.00,379.32 L268.50,379.30 L269.00,379.29 L269.50,379.27 L270.00,379.26 L270.50,379.25 L271.00,379.23 L271.50,379.22 L272.00,379.22 L272.50,379.21 L273.00,379.20 L273.50,379.20 L273.90,379.20 L274.40,379.20 L274.90,379.20 L275.40,379.20 L275.90,379.20 L276.40,379.20 L276.90,379.20 L277.40,379.20 L277.90,379.20 L278.40,379.20 L278.90,379.20 L279.40,379.20 L279.90,379.20 L280.40,379.20 L280.90,379.20 L281.40,379.20 L281.90,379.20 L282.30,379.20 L282.80,379.22 L283.30,379.30 L283.80,379.41 L284.30,379.55 L284.80,379.73 L285.30,379.92 L285.80,380.14 L286.30,380.37 L286.80,380.60 L287.30,380.84 L287.80,381.07 L288.30,381.29 L288.80,381.49 L289.30,381.67 L289.70,381.80 L290.20,381.95 L290.70,382.11 L291.20,382.27 L291.70,382.44 L292.20,382.61 L292.70,382.78 L293.20,382.94 L293.70,383.10 L294.20,383.25 L294.70,383.39 L295.20,383.51 L295.70,383.63 L296.20,383.72 L296.70,383.80 L297.20,383.86 L297.70,383.89 L298.10,383.90 L298.60,383.89 L299.10,383.87 L299.60,383.83 L300.10,383.77 L300.60,383.71 L301.10,383.63 L301.60,383.55 L302.10,383.46 L302.60,383.36 L303.10,383.25 L303.60,383.14 L304.10,383.03 L304.60,382.92 L305.10,382.81 L305.60,382.70 L306.10,382.59 L306.60,382.49 L307.10,382.39 L307.60,382.30 L308.10,382.21 L308.60,382.11 L309.10,382.00 L309.60,381.88 L310.10,381.77 L310.60,381.65 L311.10,381.53 L311.60,381.41 L312.10,381.30 L312.60,381.20 L313.10,381.10 L313.60,381.01 L314.10,380.94 L314.60,380.88 L315.10,380.83 L315.60,380.81 L316.00,380.80 L316.50,380.80 L317.00,380.81 L317.50,380.82 L318.00,380.84 L318.50,380.86 L319.00,380.88 L319.50,380.91 L320.00,380.94 L320.50,380.97 L321.00,381.00 L321.50,381.04 L322.00,381.07 L322.50,381.11 L323.00,381.14 L323.50,381.18 L324.00,381.21 L324.50,381.24 L325.00,381.27 L325.50,381.30" stroke="#1668da" stroke-width="2.3"/>
<path d="M60.60,384.40 L61.10,384.36 L61.60,384.33 L62.10,384.29 L62.60,384.24 L63.10,384.20 L63.60,384.15 L64.10,384.11 L64.60,384.06 L65.10,384.02 L65.60,383.98 L66.10,383.93 L66.60,383.89 L67.10,383.86 L67.60,383.82 L68.10,383.79 L68.60,383.76 L69.10,383.74 L69.60,383.72 L70.10,383.71 L70.60,383.70 L70.90,383.70 L71.40,383.71 L71.90,383.75 L72.40,383.82 L72.90,383.90 L73.40,384.00 L73.90,384.11 L74.40,384.23 L74.90,384.36 L75.40,384.49 L75.90,384.62 L76.40,384.75 L76.90,384.87 L77.40,384.98 L77.90,385.08 L78.40,385.17 L78.90,385.24 L79.40,385.28 L79.90,385.30 L80.00,385.30 L80.50,385.29 L81.00,385.28 L81.50,385.26 L82.00,385.23 L82.50,385.19 L83.00,385.16 L83.50,385.12 L84.00,385.08 L84.50,385.04 L85.00,385.00 L85.50,384.97 L86.00,384.94 L86.50,384.92 L87.00,384.90 L87.40,384.90 L87.90,384.91 L88.40,384.93 L88.90,384.96 L89.40,385.00 L89.90,385.06 L90.40,385.11 L90.90,385.18 L91.40,385.25 L91.90,385.32 L92.40,385.39 L92.90,385.46 L93.40,385.53 L93.90,385.60 L94.40,385.66 L94.80,385.70 L95.30,385.75 L95.80,385.80 L96.30,385.85 L96.80,385.90 L97.30,385.95 L97.80,386.00 L98.30,386.05 L98.80,386.09 L99.30,386.14 L99.80,386.19 L100.30,386.23 L100.80,386.28 L101.30,386.32 L101.80,386.37 L102.20,386.40 L102.70,386.44 L103.20,386.49 L103.70,386.54 L104.20,386.60 L104.70,386.65 L105.20,386.69 L105.70,386.73 L106.20,386.76 L106.70,386.79 L107.20,386.80 L107.40,386.80 L107.90,386.79 L108.40,386.76 L108.90,386.72 L109.40,386.66 L109.90,386.60 L110.40,386.52 L110.90,386.44 L111.10,386.40 L111.60,386.28 L112.10,386.11 L112.60,385.90 L113.10,385.65 L113.60,385.37 L114.10,385.06 L114.60,384.73 L114.80,384.60 L115.30,384.21 L115.80,383.75 L116.30,383.21 L116.80,382.65 L117.30,382.06 L117.70,381.60 L118.20,381.01 L118.70,380.40 L119.20,379.76 L119.70,379.10 L120.00,378.70 L120.50,378.02 L121.00,377.32 L121.50,376.61 L122.00,375.88 L122.50,375.15 L122.60,375.00 L123.10,374.23 L123.60,373.42 L124.10,372.59 L124.60,371.77 L125.10,370.98 L125.60,370.25 L126.10,369.60 L126.60,369.01 L127.10,368.42 L127.60,367.86 L128.10,367.32 L128.60,366.81 L129.10,366.36 L129.60,365.96 L130.10,365.62 L130.50,365.40 L131.00,365.16 L131.50,364.92 L132.00,364.71 L132.50,364.53 L133.00,364.39 L133.50,364.31 L133.80,364.30 L134.30,364.37 L134.80,364.55 L135.30,364.84 L135.80,365.21 L136.30,365.65 L136.80,366.14 L137.30,366.65 L137.80,367.18 L138.30,367.70 L138.80,368.24 L139.30,368.85 L139.80,369.53 L140.30,370.28 L140.80,371.11 L141.30,372.02 L141.60,372.60 L142.10,373.77 L142.60,375.21 L143.10,376.84 L143.60,378.54 L144.10,380.21 L144.60,381.77 L144.90,382.60 L145.40,383.82 L145.90,384.94 L146.40,386.10 L146.60,386.60 L147.10,387.92 L147.60,389.29 L148.10,390.72 L148.60,392.19 L149.10,393.69 L149.60,395.22 L150.10,396.77 L150.60,398.33 L151.10,399.90 L151.60,401.45 L152.10,403.00 L152.60,404.52 L153.10,406.01 L153.30,406.60 L153.80,408.17 L154.30,409.91 L154.80,411.76 L155.30,413.67 L155.80,415.56 L156.30,417.37 L156.80,419.05 L157.30,420.52 L157.80,421.73 L158.30,422.62 L158.80,423.11 L159.10,423.20 L159.60,423.16 L160.10,423.03 L160.60,422.83 L161.10,422.55 L161.60,422.22 L162.10,421.84 L162.60,421.40 L163.10,420.93 L163.60,420.43 L164.10,419.90 L164.60,419.18 L165.10,418.13 L165.60,416.80 L166.10,415.24 L166.60,413.51 L167.10,411.66 L167.60,409.75 L168.10,407.82 L168.60,405.94 L169.10,404.14 L169.60,402.50 L169.90,401.60 L170.40,400.23 L170.90,398.94 L171.40,397.64 L171.90,396.29 L172.00,396.00 L172.50,394.56 L173.00,393.09 L173.50,391.57 L174.00,389.98 L174.50,388.30 L175.00,386.50 L175.50,384.43 L176.00,382.07 L176.50,379.60 L177.00,377.20 L177.50,375.05 L177.70,374.30 L178.20,372.58 L178.70,370.99 L179.20,369.50 L179.70,368.09 L180.20,366.74 L180.70,365.43 L181.10,364.40 L181.60,363.08 L182.10,361.72 L182.60,360.37 L183.10,359.07 L183.60,357.88 L184.10,356.83 L184.60,355.99 L185.00,355.50 L185.50,355.00 L186.00,354.52 L186.50,354.10 L187.00,353.74 L187.50,353.48 L188.00,353.33 L188.30,353.30 L188.80,353.37 L189.30,353.56 L189.80,353.85 L190.30,354.23 L190.80,354.67 L191.30,355.16 L191.80,355.67 L192.30,356.19 L192.70,356.60 L193.20,357.16 L193.70,357.82 L194.20,358.56 L194.70,359.35 L195.20,360.18 L195.70,361.03 L196.20,361.87 L196.70,362.68 L197.10,363.30 L197.60,364.04 L198.10,364.77 L198.60,365.49 L199.10,366.21 L199.60,366.93 L200.10,367.65 L200.60,368.38 L201.10,369.13 L201.60,369.90 L202.10,370.68 L202.60,371.47 L203.10,372.27 L203.60,373.09 L204.10,373.93 L204.60,374.79 L205.00,375.50 L205.50,376.47 L206.00,377.52 L206.50,378.60 L207.00,379.63 L207.50,380.54 L207.80,381.00 L208.30,381.69 L208.80,382.35 L209.30,382.98 L209.80,383.58 L210.30,384.16 L210.80,384.70 L211.30,385.22 L211.80,385.70 L212.30,386.16 L212.80,386.58 L213.30,386.96 L213.80,387.32 L214.30,387.64 L214.40,387.70 L214.90,387.99 L215.40,388.28 L215.90,388.56 L216.40,388.83 L216.90,389.09 L217.40,389.34 L217.90,389.57 L218.40,389.78 L218.90,389.97 L219.40,390.13 L219.90,390.27 L220.40,390.39 L220.90,390.47 L221.10,390.50 L221.60,390.56 L222.10,390.61 L222.60,390.66 L223.10,390.71 L223.60,390.75 L224.10,390.80 L224.60,390.84 L225.10,390.87 L225.60,390.90 L226.10,390.93 L226.60,390.95 L227.10,390.97 L227.60,390.99 L228.10,390.99 L228.60,391.00 L228.80,391.00 L229.30,391.00 L229.80,390.99 L230.30,390.98 L230.80,390.97 L231.30,390.95 L231.80,390.93 L232.30,390.90 L232.80,390.88 L233.30,390.85 L233.80,390.82 L234.30,390.78 L234.80,390.74 L235.30,390.71 L235.80,390.67 L236.30,390.62 L236.80,390.58 L237.30,390.54 L237.70,390.50 L238.20,390.45 L238.70,390.38 L239.20,390.31 L239.70,390.22 L240.20,390.13 L240.70,390.02 L241.20,389.91 L241.70,389.80 L242.20,389.67 L242.70,389.55 L243.20,389.42 L243.70,389.28 L244.20,389.15 L244.70,389.01 L245.20,388.88 L245.50,388.80 L246.00,388.66 L246.50,388.52 L247.00,388.36 L247.50,388.20 L248.00,388.04 L248.50,387.87 L249.00,387.69 L249.50,387.52 L250.00,387.34 L250.50,387.16 L251.00,386.98 L251.50,386.81 L252.00,386.63 L252.10,386.60 L252.60,386.43 L253.10,386.25 L253.60,386.07 L254.10,385.88 L254.60,385.70 L255.10,385.51 L255.60,385.32 L256.10,385.14 L256.60,384.95 L257.10,384.77 L257.60,384.59 L258.10,384.41 L258.60,384.24 L259.10,384.08 L259.60,383.92 L260.00,383.80 L260.50,383.65 L261.00,383.51 L261.50,383.38 L262.00,383.24 L262.50,383.12 L263.00,382.99 L263.40,382.90 L263.90,382.78 L264.40,382.66 L264.90,382.53 L265.40,382.39 L265.90,382.26 L266.40,382.13 L266.90,381.99 L267.40,381.86 L267.90,381.73 L268.40,381.60 L268.90,381.48 L269.40,381.37 L269.90,381.26 L270.40,381.16 L270.90,381.07 L271.40,380.99 L271.90,380.93 L272.40,380.87 L272.90,380.83 L273.40,380.81 L273.90,380.80 L274.40,380.81 L274.90,380.83 L275.40,380.87 L275.90,380.91 L276.40,380.98 L276.90,381.05 L277.40,381.13 L277.90,381.22 L278.40,381.32 L278.90,381.43 L279.40,381.55 L279.90,381.67 L280.40,381.79 L280.90,381.92 L281.40,382.05 L281.90,382.19 L282.30,382.30 L282.80,382.46 L283.30,382.67 L283.80,382.91 L284.30,383.18 L284.80,383.48 L285.30,383.80 L285.80,384.14 L286.30,384.48 L286.80,384.82 L287.30,385.15 L287.80,385.48 L288.30,385.78 L288.80,386.07 L289.30,386.32 L289.70,386.50 L290.20,386.71 L290.70,386.93 L291.20,387.15 L291.70,387.37 L292.20,387.58 L292.70,387.80 L293.20,388.01 L293.70,388.21 L294.20,388.39 L294.70,388.57 L295.20,388.73 L295.70,388.87 L296.20,388.99 L296.70,389.08 L297.20,389.15 L297.70,389.19 L298.10,389.20 L298.60,389.19 L299.10,389.15 L299.60,389.08 L300.10,389.00 L300.60,388.89 L301.10,388.77 L301.60,388.63 L302.10,388.48 L302.60,388.32 L303.10,388.14 L303.60,387.96 L304.10,387.78 L304.60,387.59 L305.10,387.40 L305.60,387.21 L306.10,387.02 L306.60,386.84 L307.10,386.67 L307.60,386.50 L308.10,386.33 L308.60,386.15 L309.10,385.95 L309.60,385.74 L310.10,385.53 L310.60,385.31 L311.10,385.09 L311.60,384.87 L312.10,384.66 L312.60,384.45 L313.10,384.25 L313.60,384.06 L314.10,383.89 L314.60,383.73 L315.10,383.59 L315.60,383.47 L316.00,383.40 L316.50,383.32 L317.00,383.25 L317.50,383.18 L318.00,383.11 L318.50,383.05 L319.00,383.00 L319.50,382.95 L320.00,382.90 L320.50,382.85 L321.00,382.81 L321.50,382.76 L322.00,382.72 L322.50,382.68 L323.00,382.63 L323.50,382.59 L324.00,382.55 L324.50,382.50 L325.00,382.45 L325.50,382.40" stroke="#b076e0" stroke-width="2.3"/>
<path d="M60.60,386.30 L61.10,386.22 L61.60,386.14 L62.10,386.06 L62.60,385.98 L63.10,385.90 L63.60,385.82 L64.10,385.74 L64.60,385.66 L65.10,385.58 L65.60,385.50 L66.10,385.42 L66.60,385.33 L67.10,385.24 L67.60,385.15 L68.10,385.06 L68.40,385.00 L68.90,384.89 L69.40,384.77 L69.90,384.63 L70.40,384.48 L70.90,384.32 L71.40,384.16 L71.90,384.01 L72.40,383.85 L72.90,383.71 L73.40,383.57 L73.90,383.45 L74.40,383.35 L74.90,383.28 L75.40,383.22 L75.90,383.20 L76.00,383.20 L76.50,383.21 L77.00,383.23 L77.50,383.27 L78.00,383.31 L78.50,383.36 L79.00,383.41 L79.50,383.46 L80.00,383.50 L80.50,383.54 L81.00,383.57 L81.50,383.60 L82.00,383.63 L82.50,383.67 L83.00,383.72 L83.50,383.77 L83.70,383.80 L84.20,383.90 L84.70,384.05 L85.20,384.24 L85.70,384.46 L86.20,384.70 L86.70,384.95 L87.20,385.20 L87.40,385.30 L87.90,385.56 L88.40,385.86 L88.90,386.17 L89.40,386.50 L89.90,386.82 L90.40,387.12 L90.90,387.40 L91.10,387.50 L91.60,387.74 L92.10,387.98 L92.60,388.20 L93.10,388.42 L93.60,388.62 L94.10,388.79 L94.60,388.95 L94.80,389.00 L95.30,389.13 L95.80,389.26 L96.30,389.38 L96.80,389.50 L97.30,389.60 L97.80,389.69 L98.30,389.75 L98.80,389.79 L99.20,389.80 L99.70,389.79 L100.20,389.75 L100.70,389.69 L101.20,389.60 L101.70,389.51 L102.20,389.39 L102.70,389.27 L103.20,389.14 L103.70,389.00 L104.20,388.83 L104.70,388.60 L105.20,388.33 L105.70,388.02 L106.20,387.68 L106.70,387.32 L107.20,386.95 L107.40,386.80 L107.90,386.40 L108.40,385.97 L108.90,385.50 L109.40,384.99 L109.90,384.46 L110.40,383.90 L110.90,383.33 L111.10,383.10 L111.60,382.49 L112.10,381.82 L112.60,381.12 L113.10,380.40 L113.60,379.66 L114.10,378.92 L114.60,378.19 L114.80,377.90 L115.30,377.17 L115.80,376.43 L116.30,375.67 L116.80,374.93 L117.30,374.19 L117.80,373.49 L118.30,372.83 L118.40,372.70 L118.90,372.10 L119.40,371.55 L119.90,371.02 L120.40,370.47 L120.80,370.00 L121.30,369.34 L121.80,368.59 L122.30,367.81 L122.80,367.06 L123.30,366.38 L123.80,365.82 L124.20,365.50 L124.70,365.19 L125.20,364.88 L125.70,364.60 L126.20,364.34 L126.70,364.11 L127.20,363.92 L127.70,363.76 L128.20,363.66 L128.70,363.60 L128.90,363.60 L129.40,363.65 L129.90,363.78 L130.40,363.98 L130.90,364.24 L131.40,364.56 L131.90,364.91 L132.40,365.29 L132.90,365.68 L133.30,366.00 L133.80,366.45 L134.30,366.98 L134.80,367.60 L135.30,368.30 L135.80,369.06 L136.30,369.89 L136.80,370.77 L137.20,371.50 L137.70,372.55 L138.20,373.78 L138.70,375.15 L139.20,376.61 L139.70,378.09 L140.20,379.55 L140.50,380.40 L141.00,381.78 L141.50,383.16 L142.00,384.55 L142.50,385.97 L143.00,387.41 L143.30,388.30 L143.80,389.82 L144.30,391.39 L144.80,392.99 L145.30,394.63 L145.80,396.29 L146.30,397.97 L146.80,399.64 L147.30,401.32 L147.80,402.98 L148.30,404.62 L148.80,406.22 L149.30,407.79 L149.80,409.31 L150.00,409.90 L150.50,411.39 L151.00,412.92 L151.50,414.47 L152.00,415.99 L152.50,417.48 L153.00,418.89 L153.50,420.22 L154.00,421.42 L154.50,422.48 L154.90,423.20 L155.40,424.05 L155.90,424.90 L156.40,425.71 L156.90,426.41 L157.40,426.96 L157.90,427.31 L158.30,427.40 L158.80,427.35 L159.30,427.21 L159.80,426.99 L160.30,426.70 L160.80,426.34 L161.30,425.94 L161.80,425.49 L162.30,425.00 L162.40,424.90 L162.90,424.21 L163.40,423.16 L163.90,421.82 L164.40,420.23 L164.90,418.43 L165.40,416.49 L165.90,414.45 L166.40,412.35 L166.90,410.25 L167.40,408.20 L167.90,405.97 L168.40,403.48 L168.90,400.97 L169.40,398.70 L169.90,396.72 L170.40,394.88 L170.90,393.14 L171.40,391.44 L171.90,389.73 L172.40,387.98 L172.80,386.50 L173.30,384.54 L173.80,382.50 L174.30,380.42 L174.80,378.33 L175.30,376.28 L175.80,374.32 L176.10,373.20 L176.60,371.38 L177.10,369.57 L177.60,367.80 L178.10,366.10 L178.60,364.50 L179.10,363.02 L179.40,362.20 L179.90,360.87 L180.40,359.56 L180.90,358.30 L181.40,357.15 L181.90,356.16 L182.40,355.36 L182.70,355.00 L183.20,354.48 L183.70,353.99 L184.20,353.52 L184.70,353.10 L185.20,352.73 L185.70,352.43 L186.20,352.20 L186.70,352.05 L187.20,352.00 L187.70,352.03 L188.20,352.13 L188.70,352.29 L189.20,352.49 L189.70,352.74 L190.20,353.02 L190.70,353.32 L191.20,353.64 L191.60,353.90 L192.10,354.31 L192.60,354.84 L193.10,355.49 L193.60,356.22 L194.10,357.00 L194.60,357.81 L195.10,358.62 L195.60,359.41 L196.00,360.00 L196.50,360.73 L197.00,361.48 L197.50,362.24 L198.00,363.01 L198.50,363.77 L199.00,364.52 L199.50,365.25 L200.00,365.94 L200.50,366.60 L201.00,367.21 L201.50,367.78 L202.00,368.32 L202.50,368.85 L203.00,369.37 L203.50,369.89 L204.00,370.43 L204.50,371.00 L205.00,371.60 L205.50,372.27 L206.00,373.00 L206.50,373.76 L207.00,374.49 L207.50,375.15 L207.80,375.50 L208.30,376.04 L208.80,376.56 L209.30,377.07 L209.80,377.57 L210.30,378.05 L210.80,378.51 L211.30,378.95 L211.80,379.36 L212.30,379.74 L212.80,380.10 L213.30,380.42 L213.80,380.71 L214.30,380.96 L214.40,381.00 L214.90,381.22 L215.40,381.42 L215.90,381.62 L216.40,381.81 L216.90,381.99 L217.40,382.16 L217.90,382.33 L218.40,382.48 L218.90,382.62 L219.40,382.75 L219.90,382.87 L220.40,382.99 L220.90,383.09 L221.40,383.18 L221.90,383.26 L222.20,383.30 L222.70,383.37 L223.20,383.43 L223.70,383.50 L224.20,383.56 L224.70,383.62 L225.20,383.67 L225.70,383.71 L226.20,383.75 L226.70,383.78 L227.20,383.79 L227.70,383.80 L228.20,383.78 L228.70,383.74 L229.20,383.67 L229.70,383.58 L230.20,383.46 L230.70,383.34 L231.20,383.19 L231.70,383.04 L232.20,382.89 L232.70,382.73 L233.20,382.56 L233.70,382.41 L234.20,382.26 L234.40,382.20 L234.90,382.05 L235.40,381.89 L235.90,381.71 L236.40,381.53 L236.90,381.34 L237.40,381.15 L237.90,380.95 L238.40,380.76 L238.90,380.58 L239.40,380.40 L239.90,380.23 L240.40,380.07 L240.90,379.93 L241.00,379.90 L241.50,379.77 L242.00,379.65 L242.50,379.53 L243.00,379.41 L243.50,379.30 L244.00,379.20 L244.50,379.09 L245.00,378.99 L245.50,378.89 L246.00,378.80 L246.50,378.70 L247.00,378.61 L247.50,378.52 L248.00,378.44 L248.50,378.35 L248.80,378.30 L249.30,378.22 L249.80,378.14 L250.30,378.07 L250.80,378.00 L251.30,377.93 L251.80,377.86 L252.30,377.79 L252.80,377.73 L253.30,377.66 L253.80,377.60 L254.30,377.53 L254.80,377.46 L255.30,377.39 L255.80,377.32 L256.30,377.25 L256.60,377.20 L257.10,377.12 L257.60,377.03 L258.10,376.94 L258.60,376.85 L259.10,376.75 L259.60,376.65 L260.10,376.55 L260.60,376.46 L261.10,376.37 L261.60,376.28 L262.10,376.19 L262.60,376.11 L263.10,376.04 L263.40,376.00 L263.90,375.94 L264.40,375.87 L264.90,375.81 L265.40,375.74 L265.90,375.67 L266.40,375.61 L266.90,375.54 L267.40,375.48 L267.90,375.42 L268.40,375.36 L268.90,375.31 L269.40,375.25 L269.90,375.21 L270.40,375.16 L270.90,375.12 L271.40,375.09 L271.90,375.06 L272.40,375.03 L272.90,375.01 L273.40,375.00 L273.90,375.00 L274.40,375.00 L274.90,375.02 L275.40,375.04 L275.90,375.07 L276.40,375.11 L276.90,375.16 L277.40,375.21 L277.90,375.27 L278.40,375.34 L278.90,375.41 L279.40,375.48 L279.90,375.56 L280.40,375.65 L280.90,375.74 L281.40,375.83 L281.90,375.92 L282.30,376.00 L282.80,376.12 L283.30,376.29 L283.80,376.50 L284.30,376.75 L284.80,377.02 L285.30,377.31 L285.80,377.62 L286.30,377.93 L286.80,378.24 L287.30,378.54 L287.80,378.84 L288.30,379.11 L288.80,379.35 L289.30,379.56 L289.70,379.70 L290.20,379.86 L290.70,380.02 L291.20,380.18 L291.70,380.33 L292.20,380.49 L292.70,380.64 L293.20,380.79 L293.70,380.93 L294.20,381.07 L294.70,381.19 L295.20,381.31 L295.70,381.42 L296.20,381.52 L296.70,381.60 L297.20,381.67 L297.70,381.73 L298.20,381.77 L298.70,381.79 L299.10,381.80 L299.60,381.79 L300.10,381.76 L300.60,381.72 L301.10,381.66 L301.60,381.59 L302.10,381.50 L302.60,381.41 L303.10,381.30 L303.60,381.19 L304.10,381.07 L304.60,380.95 L305.10,380.83 L305.60,380.70 L306.10,380.57 L306.60,380.44 L307.10,380.32 L307.60,380.20 L308.10,380.08 L308.60,379.94 L309.10,379.80 L309.60,379.64 L310.10,379.48 L310.60,379.31 L311.10,379.14 L311.60,378.97 L312.10,378.80 L312.60,378.63 L313.10,378.46 L313.60,378.29 L314.10,378.13 L314.60,377.98 L315.10,377.83 L315.60,377.70 L316.00,377.60 L316.50,377.48 L317.00,377.37 L317.50,377.27 L318.00,377.16 L318.50,377.06 L319.00,376.97 L319.50,376.87 L320.00,376.78 L320.50,376.69 L321.00,376.60 L321.50,376.51 L322.00,376.43 L322.50,376.34 L323.00,376.25 L323.50,376.16 L324.00,376.07 L324.50,375.99 L325.00,375.89 L325.50,375.80" stroke="#cf9a05" stroke-width="2.3"/>
</g>
<rect x="179.4" y="412.2" width="140.1" height="78.4" fill="#fff" stroke="#b4b4b4" stroke-width="1"/>
<text x="194.70" y="430.2" font-size="13.6" fill="#000" font-weight="bold" textLength="115.43" lengthAdjust="spacingAndGlyphs">Pump polarization</text>
<path d="M194.2,443.8 H231.4" stroke="#1668da" stroke-width="2.2"/>
<text x="235.50" y="449.2" font-size="13.8" fill="#000" textLength="34.20" lengthAdjust="spacingAndGlyphs">Linear</text>
<path d="M194.2,462.1 H231.4" stroke="#b076e0" stroke-width="2.2"/>
<text x="235.50" y="467.6" font-size="13.8" fill="#000" textLength="68.87" lengthAdjust="spacingAndGlyphs">Left-handed</text>
<path d="M194.2,481.0 H231.4" stroke="#cf9a05" stroke-width="2.2"/>
<text x="235.50" y="486.2" font-size="13.8" fill="#000" textLength="76.50" lengthAdjust="spacingAndGlyphs">Right-handed</text>
<rect x="232.2" y="289.4" width="86.19999999999999" height="69.20000000000005" fill="#fff" stroke="#bdbdbd" stroke-width="1"/>
<path d="M240.65,358.6 v1.8 M240.65,289.4 v1.8 M253.60,358.6 v1.8 M253.60,289.4 v1.8 M266.55,358.6 v1.8 M266.55,289.4 v1.8 M279.50,358.6 v1.8 M279.50,289.4 v1.8 M292.45,358.6 v1.8 M292.45,289.4 v1.8 M305.40,358.6 v1.8 M305.40,289.4 v1.8 M232.2,352.40 h-1.8 M318.4,352.40 h-1.8 M232.2,346.20 h-1.8 M318.4,346.20 h-1.8 M232.2,340.00 h-1.8 M318.4,340.00 h-1.8 M232.2,333.80 h-1.8 M318.4,333.80 h-1.8 M232.2,327.60 h-1.8 M318.4,327.60 h-1.8 M232.2,321.40 h-1.8 M318.4,321.40 h-1.8 M232.2,315.20 h-1.8 M318.4,315.20 h-1.8 M232.2,309.00 h-1.8 M318.4,309.00 h-1.8 M232.2,302.80 h-1.8 M318.4,302.80 h-1.8 M232.2,296.60 h-1.8 M318.4,296.60 h-1.8 " stroke="#9a9a9a" stroke-width="0.8" fill="none"/>
<text x="253.6" y="367.7" font-size="7.8" text-anchor="middle" fill="#222" >1</text>
<text x="279.5" y="367.7" font-size="7.8" text-anchor="middle" fill="#222" >2</text>
<text x="305.4" y="367.7" font-size="7.8" text-anchor="middle" fill="#222" >3</text>
<text x="239.8" y="374.8" font-size="9.4" text-anchor="start" fill="#000" font-weight="bold" textLength="71.2" lengthAdjust="spacingAndGlyphs" >Frequency (THz)</text>
<text x="0" y="0" font-size="9.4" transform="translate(225.2,344.7) rotate(-90)" font-weight="bold" textLength="45" lengthAdjust="spacingAndGlyphs">Amplitude</text>
<polyline points="234.1,355.9 237.8,350.5 241.3,347.4 244.8,334.9 248.3,331.6 251.8,327.4 255.4,328.1 258.9,333.6 262.4,338.6 265.9,343.6 269.4,349.8 272.9,352.2 276.6,355.5 280.1,357.2 283.6,358.0 287.1,358.0 290.6,358.0 294.1,358.0 297.6,358.0 301.1,358.0 304.6,358.0 308.1,358.0 311.6,358.0 315.1,358.0 318.6,358.0" fill="none" stroke="#1668da" stroke-width="1.5" stroke-linejoin="round"/>
<circle cx="234.1" cy="355.9" r="1.6" fill="#1668da"/>
<circle cx="237.8" cy="350.5" r="1.6" fill="#1668da"/>
<circle cx="241.3" cy="347.4" r="1.6" fill="#1668da"/>
<circle cx="244.8" cy="334.9" r="1.6" fill="#1668da"/>
<circle cx="248.3" cy="331.6" r="1.6" fill="#1668da"/>
<circle cx="251.8" cy="327.4" r="1.6" fill="#1668da"/>
<circle cx="255.4" cy="328.1" r="1.6" fill="#1668da"/>
<circle cx="258.9" cy="333.6" r="1.6" fill="#1668da"/>
<circle cx="262.4" cy="338.6" r="1.6" fill="#1668da"/>
<circle cx="265.9" cy="343.6" r="1.6" fill="#1668da"/>
<circle cx="269.4" cy="349.8" r="1.6" fill="#1668da"/>
<circle cx="272.9" cy="352.2" r="1.6" fill="#1668da"/>
<circle cx="276.6" cy="355.5" r="1.6" fill="#1668da"/>
<circle cx="280.1" cy="357.2" r="1.6" fill="#1668da"/>
<circle cx="283.6" cy="358.0" r="1.6" fill="#1668da"/>
<circle cx="287.1" cy="358.0" r="1.6" fill="#1668da"/>
<circle cx="290.6" cy="358.0" r="1.6" fill="#1668da"/>
<circle cx="294.1" cy="358.0" r="1.6" fill="#1668da"/>
<circle cx="297.6" cy="358.0" r="1.6" fill="#1668da"/>
<circle cx="301.1" cy="358.0" r="1.6" fill="#1668da"/>
<circle cx="304.6" cy="358.0" r="1.6" fill="#1668da"/>
<circle cx="308.1" cy="358.0" r="1.6" fill="#1668da"/>
<circle cx="311.6" cy="358.0" r="1.6" fill="#1668da"/>
<circle cx="315.1" cy="358.0" r="1.6" fill="#1668da"/>
<circle cx="318.6" cy="358.0" r="1.6" fill="#1668da"/>
<rect x="414.3" y="286.4" width="266.49999999999994" height="214.60000000000002" fill="none" stroke="#646464" stroke-width="1.45"/>
<path d="M414.30,501.0 v4 M414.30,286.4 v4 M436.51,501.0 v2.2 M436.51,286.4 v2.2 M458.72,501.0 v4 M458.72,286.4 v4 M480.93,501.0 v2.2 M480.93,286.4 v2.2 M503.14,501.0 v4 M503.14,286.4 v4 M525.35,501.0 v2.2 M525.35,286.4 v2.2 M547.56,501.0 v4 M547.56,286.4 v4 M569.77,501.0 v2.2 M569.77,286.4 v2.2 M591.98,501.0 v4 M591.98,286.4 v4 M614.19,501.0 v2.2 M614.19,286.4 v2.2 M636.40,501.0 v4 M636.40,286.4 v4 M658.61,501.0 v2.2 M658.61,286.4 v2.2 M680.82,501.0 v4 M680.82,286.4 v4 M414.3,286.40 h-4 M680.8,286.40 h-4 M414.3,302.90 h-2.2 M680.8,302.90 h-2.2 M414.3,319.40 h-4 M680.8,319.40 h-4 M414.3,335.90 h-2.2 M680.8,335.90 h-2.2 M414.3,352.40 h-4 M680.8,352.40 h-4 M414.3,368.90 h-2.2 M680.8,368.90 h-2.2 M414.3,385.40 h-4 M680.8,385.40 h-4 M414.3,401.90 h-2.2 M680.8,401.90 h-2.2 M414.3,418.40 h-4 M680.8,418.40 h-4 M414.3,434.90 h-2.2 M680.8,434.90 h-2.2 M414.3,451.40 h-4 M680.8,451.40 h-4 M414.3,467.90 h-2.2 M680.8,467.90 h-2.2 M414.3,484.40 h-4 M680.8,484.40 h-4 M414.3,500.90 h-2.2 M680.8,500.90 h-2.2 " stroke="#646464" stroke-width="1.1" fill="none"/>
<text x="406.1" y="291.0" font-size="15.5" text-anchor="end" fill="#000" textLength="21.55" lengthAdjust="spacingAndGlyphs" >1.5</text>
<text x="406.1" y="324.0" font-size="15.5" text-anchor="end" fill="#000" textLength="21.55" lengthAdjust="spacingAndGlyphs" >1.0</text>
<text x="406.1" y="357.0" font-size="15.5" text-anchor="end" fill="#000" textLength="21.55" lengthAdjust="spacingAndGlyphs" >0.5</text>
<text x="406.1" y="390.0" font-size="15.5" text-anchor="end" fill="#000" textLength="21.55" lengthAdjust="spacingAndGlyphs" >0.0</text>
<text x="406.1" y="423.0" font-size="15.5" text-anchor="end" fill="#000" textLength="26.71" lengthAdjust="spacingAndGlyphs" >-0.5</text>
<text x="406.1" y="456.0" font-size="15.5" text-anchor="end" fill="#000" textLength="26.71" lengthAdjust="spacingAndGlyphs" >-1.0</text>
<text x="406.1" y="489.0" font-size="15.5" text-anchor="end" fill="#000" textLength="26.71" lengthAdjust="spacingAndGlyphs" >-1.5</text>
<text x="414.3" y="520.6" font-size="15.5" text-anchor="middle" fill="#000" textLength="8.62" lengthAdjust="spacingAndGlyphs" >0</text>
<text x="458.72" y="520.6" font-size="15.5" text-anchor="middle" fill="#000" textLength="8.62" lengthAdjust="spacingAndGlyphs" >1</text>
<text x="503.14" y="520.6" font-size="15.5" text-anchor="middle" fill="#000" textLength="8.62" lengthAdjust="spacingAndGlyphs" >2</text>
<text x="547.56" y="520.6" font-size="15.5" text-anchor="middle" fill="#000" textLength="8.62" lengthAdjust="spacingAndGlyphs" >3</text>
<text x="591.98" y="520.6" font-size="15.5" text-anchor="middle" fill="#000" textLength="8.62" lengthAdjust="spacingAndGlyphs" >4</text>
<text x="636.4000000000001" y="520.6" font-size="15.5" text-anchor="middle" fill="#000" textLength="8.62" lengthAdjust="spacingAndGlyphs" >5</text>
<text x="680.8199999999999" y="520.6" font-size="15.5" text-anchor="middle" fill="#000" textLength="8.62" lengthAdjust="spacingAndGlyphs" >6</text>
<text x="511.90" y="536.2" font-size="18.0" fill="#000" font-weight="bold" textLength="71.53" lengthAdjust="spacingAndGlyphs">Time (ps)</text>
<text x="0.00" y="0" font-size="18.0" transform="translate(364.9,471.0) rotate(-90)" font-weight="bold" textLength="78.51" lengthAdjust="spacingAndGlyphs">THz signal</text>
<text x="0.00" y="0" font-size="18.0" transform="translate(364.9,385.7) rotate(-90)" font-weight="bold" textLength="86.53" lengthAdjust="spacingAndGlyphs">(arb. units)</text>
<text x="425.40" y="314.2" font-size="23" fill="#000" font-weight="bold" textLength="17.97" lengthAdjust="spacingAndGlyphs">d.</text>
<text x="418.10" y="494.1" font-size="15.8" fill="#000" font-weight="bold" textLength="84.20" lengthAdjust="spacingAndGlyphs">NiO(001)/Pt</text>
<clipPath id="cd"><rect x="414.3" y="286.4" width="266.49999999999994" height="214.60000000000002"/></clipPath>
<g clip-path="url(#cd)" fill="none" stroke-linejoin="round" stroke-linecap="round">
<path d="M414.00,389.30 L414.50,389.21 L415.00,389.10 L415.50,388.99 L416.00,388.88 L416.50,388.76 L417.00,388.65 L417.50,388.55 L418.00,388.46 L418.50,388.39 L419.00,388.34 L419.50,388.31 L419.80,388.30 L420.30,388.31 L420.80,388.33 L421.30,388.37 L421.80,388.42 L422.30,388.46 L422.80,388.51 L423.30,388.55 L423.80,388.58 L424.30,388.60 L424.50,388.60 L425.00,388.56 L425.50,388.46 L426.00,388.30 L426.50,388.12 L427.00,387.93 L427.50,387.76 L428.00,387.61 L428.50,387.51 L428.60,387.50 L429.10,387.46 L429.60,387.42 L430.10,387.40 L430.60,387.37 L431.10,387.34 L431.50,387.30 L432.00,387.22 L432.50,387.10 L433.00,386.95 L433.50,386.81 L434.00,386.68 L434.50,386.60 L435.00,386.55 L435.50,386.51 L436.00,386.48 L436.50,386.45 L437.00,386.42 L437.50,386.39 L438.00,386.35 L438.50,386.30 L439.00,386.24 L439.50,386.18 L440.00,386.11 L440.50,386.03 L441.00,385.95 L441.50,385.85 L442.00,385.74 L442.50,385.61 L443.00,385.48 L443.50,385.32 L444.00,385.15 L444.40,385.00 L444.90,384.73 L445.40,384.33 L445.90,383.81 L446.40,383.21 L446.90,382.54 L447.40,381.83 L447.90,381.10 L448.40,380.32 L448.90,379.43 L449.40,378.45 L449.90,377.37 L450.40,376.19 L450.90,374.90 L451.40,373.50 L451.90,371.79 L452.40,369.69 L452.90,367.39 L453.40,365.08 L453.90,362.96 L454.10,362.20 L454.60,360.36 L455.10,358.52 L455.60,356.77 L456.10,355.20 L456.60,353.91 L456.90,353.30 L457.40,352.40 L457.90,351.61 L458.40,351.15 L458.60,351.10 L459.10,351.23 L459.13,351.24 L459.63,351.61 L459.67,351.64 L460.17,352.21 L460.20,352.26 L460.70,352.99 L460.74,353.04 L461.06,353.58 L461.56,355.16 L461.59,355.30 L462.09,358.04 L462.13,358.25 L462.63,361.69 L462.66,361.93 L463.16,365.57 L463.19,365.82 L463.41,367.31 L463.91,370.93 L463.94,371.19 L464.44,375.20 L464.48,375.49 L464.98,379.79 L465.01,380.09 L465.12,381.04 L465.62,385.84 L465.65,386.18 L466.15,391.33 L466.19,391.68 L466.61,396.02 L467.11,400.92 L467.15,401.25 L467.65,406.11 L467.68,406.44 L468.18,411.22 L468.21,411.55 L468.43,413.57 L468.93,418.20 L468.96,418.51 L469.46,423.04 L469.50,423.36 L470.00,427.96 L470.03,428.27 L470.24,430.30 L470.74,435.35 L470.78,435.71 L471.28,441.08 L471.31,441.44 L471.81,446.77 L471.85,447.12 L472.35,452.06 L472.38,452.38 L472.81,456.01 L473.31,460.09 L473.34,460.38 L473.84,464.60 L473.88,464.88 L474.38,468.79 L474.41,469.03 L474.91,472.18 L474.95,472.35 L475.45,474.28 L475.48,474.34 L475.80,474.70 L476.28,474.37 L476.77,473.49 L477.25,472.21 L477.73,470.70 L478.12,469.42 L478.60,467.48 L479.09,464.91 L479.57,461.87 L480.05,458.47 L480.34,456.32 L480.83,452.30 L481.31,447.59 L481.79,442.36 L482.28,436.79 L482.76,431.04 L483.24,425.01 L483.73,418.54 L484.21,411.71 L484.70,404.61 L485.18,397.34 L485.66,389.41 L486.15,381.15 L486.53,375.20 L487.02,368.53 L487.50,362.13 L487.98,356.20 L488.47,350.92 L488.95,346.47 L489.43,342.55 L489.92,338.87 L490.40,335.62 L490.88,333.05 L491.37,331.35 L491.85,330.20 L492.33,329.23 L492.82,328.55 L493.30,328.30 L493.80,328.56 L493.82,328.57 L494.32,329.27 L494.35,329.31 L494.85,330.31 L494.87,330.36 L495.37,331.54 L495.40,331.60 L495.61,332.11 L496.11,333.80 L496.13,333.89 L496.63,336.30 L496.66,336.43 L497.16,339.23 L497.18,339.37 L497.68,342.27 L497.71,342.40 L498.12,344.66 L498.62,347.22 L498.65,347.35 L499.15,349.96 L499.17,350.09 L499.67,352.73 L499.70,352.86 L500.20,355.48 L500.22,355.61 L500.72,358.18 L500.75,358.31 L501.25,360.80 L501.27,360.92 L501.69,362.93 L502.19,365.27 L502.22,365.38 L502.72,367.71 L502.74,367.82 L503.24,370.12 L503.26,370.23 L503.76,372.48 L503.79,372.59 L504.29,374.75 L504.31,374.86 L504.81,376.92 L504.84,377.02 L505.34,378.97 L505.36,379.06 L505.86,380.85 L505.89,380.94 L505.99,381.29 L506.49,382.93 L506.52,383.01 L507.02,384.58 L507.04,384.65 L507.54,386.15 L507.56,386.22 L508.06,387.66 L508.09,387.73 L508.59,389.10 L508.61,389.16 L509.11,390.48 L509.14,390.55 L509.64,391.81 L509.66,391.87 L510.16,393.09 L510.19,393.15 L510.69,394.33 L510.71,394.38 L511.13,395.34 L511.63,396.46 L511.66,396.52 L512.16,397.61 L512.18,397.66 L512.68,398.71 L512.70,398.77 L513.20,399.78 L513.23,399.83 L513.73,400.81 L513.75,400.86 L514.25,401.78 L514.28,401.83 L514.78,402.70 L514.80,402.74 L515.30,403.56 L515.33,403.60 L515.64,404.08 L516.14,404.84 L516.17,404.88 L516.67,405.68 L516.69,405.72 L517.19,406.53 L517.21,406.57 L517.71,407.37 L517.74,407.40 L518.24,408.16 L518.26,408.20 L518.76,408.89 L518.79,408.92 L519.29,409.53 L519.31,409.56 L519.81,410.05 L519.84,410.08 L520.34,410.44 L520.36,410.45 L520.86,410.66 L520.89,410.66 L521.20,410.70 L521.70,410.63 L521.71,410.63 L522.21,410.44 L522.22,410.44 L522.72,410.14 L522.73,410.13 L523.23,409.73 L523.24,409.72 L523.74,409.23 L523.75,409.22 L524.25,408.66 L524.26,408.65 L524.76,408.02 L524.76,408.01 L525.26,407.34 L525.27,407.33 L525.68,406.75 L526.18,405.79 L526.19,405.77 L526.69,404.38 L526.70,404.35 L527.20,402.64 L527.21,402.60 L527.71,400.66 L527.72,400.62 L528.22,398.55 L528.23,398.51 L528.73,396.41 L528.74,396.37 L529.24,394.34 L529.25,394.30 L529.75,392.21 L529.76,392.17 L530.26,389.91 L530.26,389.86 L530.76,387.56 L530.77,387.52 L531.27,385.31 L531.28,385.27 L531.49,384.43 L531.99,382.39 L532.00,382.35 L532.50,380.36 L532.51,380.33 L533.01,378.48 L533.01,378.44 L533.51,376.85 L533.52,376.82 L534.02,375.40 L534.03,375.37 L534.53,374.04 L534.54,374.02 L535.04,372.90 L535.05,372.88 L535.55,372.09 L535.56,372.08 L536.06,371.50 L536.07,371.49 L536.57,370.98 L536.58,370.97 L537.08,370.59 L537.09,370.59 L537.59,370.41 L537.60,370.41 L537.70,370.40 L538.18,370.53 L538.66,370.86 L539.14,371.33 L539.62,371.85 L539.72,371.95 L540.20,372.60 L540.68,373.43 L541.16,374.38 L541.45,374.97 L541.93,376.01 L542.41,377.16 L542.89,378.39 L543.37,379.68 L543.85,381.02 L544.33,382.38 L544.81,383.75 L545.00,384.30 L545.48,385.71 L545.96,387.21 L546.44,388.76 L546.92,390.32 L547.40,391.86 L547.88,393.35 L548.36,394.75 L548.56,395.27 L549.04,396.57 L549.52,397.87 L550.00,399.14 L550.48,400.36 L550.96,401.49 L551.44,402.51 L551.92,403.38 L552.11,403.68 L552.59,404.42 L553.07,405.16 L553.55,405.82 L554.03,406.34 L554.51,406.64 L554.80,406.70 L555.30,406.64 L555.80,406.47 L556.30,406.20 L556.80,405.86 L557.30,405.45 L557.80,405.01 L558.30,404.54 L558.50,404.35 L559.00,403.77 L559.50,403.00 L560.00,402.07 L560.50,401.02 L561.00,399.88 L561.50,398.68 L562.00,397.46 L562.50,396.25 L563.00,395.08 L563.10,394.85 L563.60,393.68 L564.10,392.45 L564.60,391.16 L565.10,389.85 L565.60,388.54 L566.10,387.25 L566.60,386.00 L567.10,384.81 L567.60,383.72 L567.70,383.51 L568.20,382.48 L568.70,381.45 L569.20,380.45 L569.70,379.50 L570.20,378.63 L570.70,377.85 L571.20,377.19 L571.40,376.97 L571.90,376.44 L572.40,375.92 L572.90,375.41 L573.40,374.94 L573.90,374.52 L574.40,374.16 L574.90,373.88 L575.40,373.69 L575.90,373.60 L576.00,373.60 L576.50,373.64 L576.99,373.75 L577.49,373.93 L577.99,374.17 L578.49,374.46 L578.98,374.79 L579.48,375.15 L579.98,375.54 L580.48,375.94 L580.58,376.02 L581.07,376.52 L581.57,377.17 L582.07,377.97 L582.57,378.88 L583.06,379.88 L583.56,380.96 L584.06,382.08 L584.56,383.24 L585.05,384.40 L585.25,384.86 L585.75,386.12 L586.25,387.56 L586.74,389.14 L587.24,390.79 L587.74,392.46 L588.24,394.09 L588.73,395.63 L589.23,397.03 L589.73,398.22 L589.83,398.43 L590.33,399.41 L590.82,400.29 L591.32,401.09 L591.82,401.82 L592.12,402.22 L592.61,402.91 L593.11,403.62 L593.61,404.31 L594.11,404.92 L594.60,405.41 L595.10,405.72 L595.50,405.80 L596.00,405.67 L596.00,405.67 L596.50,405.31 L596.51,405.31 L597.01,404.77 L597.01,404.77 L597.51,404.08 L597.51,404.08 L598.01,403.30 L598.01,403.29 L598.51,402.45 L598.52,402.45 L599.02,401.60 L599.02,401.60 L599.52,400.78 L599.52,400.77 L599.62,400.62 L600.12,399.80 L600.13,399.79 L600.63,398.88 L600.63,398.88 L601.13,397.90 L601.13,397.89 L601.63,396.87 L601.64,396.86 L602.14,395.80 L602.14,395.79 L602.64,394.72 L602.64,394.71 L603.14,393.64 L603.14,393.63 L603.64,392.59 L603.65,392.58 L603.85,392.17 L604.35,391.11 L604.35,391.11 L604.85,389.99 L604.85,389.98 L605.35,388.83 L605.36,388.82 L605.86,387.68 L605.86,387.68 L606.36,386.57 L606.36,386.57 L606.86,385.54 L606.86,385.54 L607.36,384.63 L607.37,384.62 L607.87,383.86 L607.87,383.85 L607.97,383.72 L608.47,383.07 L608.47,383.07 L608.97,382.42 L608.98,382.41 L609.48,381.78 L609.48,381.77 L609.98,381.17 L609.98,381.16 L610.48,380.61 L610.49,380.60 L610.99,380.11 L610.99,380.11 L611.49,379.69 L611.49,379.69 L611.99,379.38 L611.99,379.37 L612.49,379.17 L612.50,379.17 L613.00,379.10 L613.00,379.10 L613.46,379.14 L613.91,379.24 L614.37,379.40 L614.83,379.61 L615.29,379.87 L615.75,380.17 L616.20,380.50 L616.66,380.85 L617.12,381.21 L617.58,381.59 L618.03,382.04 L618.49,382.63 L618.95,383.34 L619.40,384.13 L619.86,384.98 L620.32,385.87 L620.78,386.79 L621.24,387.69 L621.69,388.56 L622.15,389.37 L622.61,390.18 L623.06,391.05 L623.52,391.95 L623.98,392.85 L624.44,393.74 L624.89,394.59 L625.35,395.38 L625.81,396.09 L626.27,396.69 L626.72,397.15 L627.18,397.55 L627.64,397.93 L628.10,398.31 L628.55,398.65 L629.01,398.97 L629.47,399.25 L629.93,399.48 L630.38,399.65 L630.84,399.76 L631.30,399.80 L631.80,399.78 L631.82,399.78 L632.32,399.73 L632.34,399.72 L632.84,399.64 L632.86,399.63 L633.36,399.53 L633.38,399.52 L633.88,399.39 L633.90,399.39 L634.40,399.24 L634.42,399.24 L634.63,399.17 L635.13,398.94 L635.15,398.93 L635.65,398.56 L635.67,398.54 L636.17,398.06 L636.19,398.04 L636.69,397.46 L636.71,397.44 L637.21,396.79 L637.23,396.76 L637.73,396.07 L637.75,396.04 L638.25,395.33 L638.27,395.30 L638.77,394.60 L638.80,394.57 L639.30,393.89 L639.32,393.86 L639.82,393.23 L639.84,393.20 L640.34,392.60 L640.36,392.57 L640.86,391.94 L640.88,391.92 L641.38,391.28 L641.40,391.25 L641.90,390.60 L641.92,390.57 L642.42,389.92 L642.44,389.90 L642.94,389.26 L642.96,389.23 L643.46,388.60 L643.48,388.57 L643.98,387.97 L644.00,387.94 L644.50,387.36 L644.52,387.34 L645.02,386.79 L645.04,386.77 L645.54,386.22 L645.56,386.19 L646.06,385.61 L646.08,385.59 L646.58,384.98 L646.60,384.96 L647.10,384.35 L647.12,384.32 L647.62,383.72 L647.64,383.70 L648.14,383.12 L648.16,383.09 L648.66,382.55 L648.69,382.53 L649.19,382.04 L649.21,382.02 L649.71,381.60 L649.73,381.58 L650.23,381.24 L650.25,381.22 L650.75,380.97 L650.77,380.97 L651.27,380.83 L651.29,380.82 L651.60,380.80 L652.10,380.85 L652.15,380.86 L652.65,381.01 L652.70,381.03 L653.20,381.26 L653.25,381.29 L653.75,381.60 L653.80,381.63 L654.30,382.00 L654.35,382.04 L654.85,382.45 L654.90,382.49 L655.40,382.94 L655.45,382.99 L655.95,383.46 L656.00,383.50 L656.50,383.98 L656.54,384.03 L657.04,384.50 L657.09,384.54 L657.53,384.94 L658.03,385.42 L658.08,385.47 L658.58,386.01 L658.63,386.07 L659.13,386.67 L659.18,386.73 L659.68,387.36 L659.73,387.43 L660.23,388.08 L660.28,388.15 L660.78,388.81 L660.83,388.88 L661.33,389.53 L661.38,389.59 L661.88,390.22 L661.93,390.28 L662.43,390.88 L662.48,390.93 L662.98,391.47 L663.03,391.52 L663.53,392.04 L663.58,392.10 L664.08,392.65 L664.13,392.71 L664.63,393.28 L664.68,393.34 L665.18,393.92 L665.22,393.97 L665.72,394.54 L665.77,394.59 L666.27,395.12 L666.32,395.17 L666.82,395.66 L666.87,395.71 L667.37,396.13 L667.42,396.17 L667.92,396.52 L667.97,396.55 L668.47,396.80 L668.52,396.82 L669.02,396.97 L669.07,396.97 L669.40,397.00 L669.84,396.99 L670.28,396.96 L670.72,396.91 L671.17,396.85 L671.61,396.77 L672.05,396.68 L672.49,396.58 L672.93,396.46 L673.37,396.34 L673.82,396.21 L674.26,396.08 L674.52,395.99 L674.96,395.83 L675.41,395.61 L675.85,395.35 L676.29,395.05 L676.73,394.71 L677.17,394.34 L677.61,393.93 L678.06,393.51 L678.50,393.06 L678.94,392.59 L679.38,392.05 L679.82,391.38 L680.26,390.64 L680.71,389.86 L681.15,389.09 L681.50,388.50" stroke="#cf9a05" stroke-width="2.6"/>
<path d="M414.00,386.50 L414.50,386.57 L415.00,386.64 L415.50,386.72 L416.00,386.80 L416.50,386.88 L417.00,386.95 L417.50,387.02 L418.00,387.09 L418.50,387.14 L419.00,387.18 L419.50,387.20 L419.80,387.20 L420.30,387.18 L420.80,387.12 L421.30,387.03 L421.80,386.91 L422.30,386.78 L422.80,386.64 L423.30,386.50 L423.80,386.35 L424.00,386.30 L424.50,386.14 L425.00,385.93 L425.50,385.70 L426.00,385.47 L426.50,385.25 L427.00,385.07 L427.50,384.95 L428.00,384.90 L428.50,384.93 L429.00,384.99 L429.50,385.09 L430.00,385.20 L430.50,385.31 L431.00,385.41 L431.50,385.47 L432.00,385.50 L432.50,385.50 L433.00,385.49 L433.50,385.47 L434.00,385.45 L434.50,385.42 L435.00,385.39 L435.50,385.35 L436.00,385.32 L436.50,385.28 L437.00,385.23 L437.40,385.20 L437.90,385.15 L438.40,385.10 L438.90,385.04 L439.40,384.96 L439.90,384.88 L440.40,384.79 L440.90,384.68 L441.40,384.56 L441.90,384.43 L442.40,384.28 L442.90,384.11 L443.20,384.00 L443.70,383.72 L444.20,383.28 L444.70,382.71 L445.20,382.06 L445.70,381.35 L446.20,380.63 L446.50,380.20 L447.00,379.47 L447.50,378.69 L448.00,377.83 L448.50,376.87 L449.00,375.80 L449.50,374.54 L450.00,373.05 L450.50,371.40 L451.00,369.64 L451.50,367.82 L452.00,366.00 L452.50,364.07 L453.00,361.97 L453.50,359.79 L454.00,357.66 L454.50,355.69 L455.00,354.00 L455.50,352.48 L456.00,351.03 L456.50,349.71 L457.00,348.61 L457.50,347.80 L458.00,347.17 L458.50,346.62 L459.00,346.27 L459.30,346.20 L459.80,346.33 L459.83,346.34 L460.33,346.72 L460.36,346.74 L460.86,347.32 L460.88,347.36 L461.38,348.10 L461.41,348.14 L461.73,348.68 L462.23,350.28 L462.26,350.39 L462.76,353.17 L462.78,353.35 L463.28,356.82 L463.31,357.03 L463.81,360.70 L463.84,360.91 L464.05,362.40 L464.55,366.06 L464.58,366.28 L465.08,370.33 L465.11,370.57 L465.61,374.92 L465.64,375.17 L465.74,376.12 L466.24,380.97 L466.27,381.25 L466.77,386.46 L466.80,386.75 L467.22,391.08 L467.72,396.04 L467.75,396.31 L468.25,401.22 L468.28,401.49 L468.78,406.33 L468.80,406.60 L469.01,408.62 L469.51,413.30 L469.54,413.55 L470.04,418.14 L470.07,418.40 L470.57,423.05 L470.60,423.31 L470.81,425.33 L471.31,430.44 L471.34,430.74 L471.84,436.17 L471.87,436.47 L472.37,441.86 L472.39,442.15 L472.89,447.14 L472.92,447.39 L473.34,451.03 L473.84,455.15 L473.87,455.39 L474.37,459.66 L474.40,459.89 L474.90,463.84 L474.93,464.03 L475.43,467.21 L475.46,467.35 L475.96,469.29 L475.98,469.34 L476.30,469.70 L476.77,469.38 L477.24,468.52 L477.71,467.27 L478.18,465.79 L478.55,464.54 L479.02,462.64 L479.49,460.13 L479.96,457.16 L480.43,453.84 L480.71,451.74 L481.18,447.80 L481.65,443.20 L482.12,438.09 L482.59,432.65 L483.06,427.03 L483.53,421.13 L484.00,414.80 L484.47,408.13 L484.94,401.19 L485.41,394.08 L485.88,386.33 L486.35,378.26 L486.73,372.45 L487.20,365.92 L487.66,359.67 L488.13,353.87 L488.60,348.71 L489.07,344.36 L489.54,340.53 L490.01,336.93 L490.48,333.76 L490.95,331.24 L491.42,329.58 L491.89,328.46 L492.36,327.51 L492.83,326.85 L493.30,326.60 L493.80,326.85 L493.82,326.87 L494.32,327.55 L494.33,327.57 L494.83,328.56 L494.85,328.59 L495.35,329.75 L495.37,329.79 L495.57,330.29 L496.07,331.94 L496.09,332.01 L496.59,334.37 L496.61,334.46 L497.11,337.22 L497.13,337.31 L497.63,340.15 L497.64,340.24 L498.06,342.42 L498.56,344.94 L498.57,345.02 L499.07,347.59 L499.09,347.68 L499.59,350.26 L499.61,350.35 L500.11,352.93 L500.12,353.01 L500.62,355.54 L500.64,355.62 L501.14,358.07 L501.16,358.15 L501.57,360.09 L502.07,362.39 L502.09,362.46 L502.59,364.75 L502.60,364.83 L503.10,367.08 L503.12,367.16 L503.62,369.36 L503.64,369.43 L504.14,371.56 L504.16,371.63 L504.66,373.66 L504.67,373.72 L505.17,375.63 L505.19,375.69 L505.69,377.46 L505.71,377.51 L505.81,377.86 L506.31,379.47 L506.33,379.52 L506.83,381.06 L506.84,381.11 L507.34,382.58 L507.36,382.63 L507.86,384.03 L507.88,384.08 L508.38,385.43 L508.39,385.47 L508.89,386.76 L508.91,386.81 L509.41,388.05 L509.43,388.09 L509.93,389.29 L509.94,389.33 L510.44,390.48 L510.46,390.52 L510.88,391.45 L511.38,392.54 L511.39,392.58 L511.89,393.65 L511.91,393.69 L512.41,394.72 L512.43,394.76 L512.93,395.76 L512.94,395.79 L513.44,396.75 L513.46,396.78 L513.96,397.69 L513.98,397.72 L514.48,398.57 L514.49,398.60 L514.99,399.40 L515.01,399.43 L515.32,399.89 L515.82,400.65 L515.84,400.67 L516.34,401.46 L516.35,401.48 L516.85,402.28 L516.87,402.31 L517.37,403.09 L517.39,403.11 L517.89,403.85 L517.91,403.88 L518.41,404.56 L518.42,404.58 L518.92,405.18 L518.94,405.19 L519.44,405.68 L519.46,405.70 L519.96,406.05 L519.97,406.06 L520.47,406.26 L520.49,406.26 L520.80,406.30 L521.30,406.23 L521.32,406.23 L521.82,406.03 L521.84,406.02 L522.34,405.70 L522.36,405.68 L522.86,405.26 L522.89,405.24 L523.39,404.73 L523.41,404.71 L523.91,404.11 L523.93,404.09 L524.43,403.43 L524.45,403.40 L524.95,402.69 L524.97,402.66 L525.39,402.04 L525.89,401.03 L525.91,400.97 L526.41,399.52 L526.43,399.45 L526.93,397.64 L526.95,397.56 L527.45,395.52 L527.48,395.42 L527.98,393.24 L528.00,393.15 L528.50,390.93 L528.52,390.84 L529.02,388.70 L529.04,388.60 L529.54,386.40 L529.56,386.30 L530.06,383.91 L530.08,383.81 L530.58,381.38 L530.61,381.28 L531.11,378.95 L531.13,378.85 L531.34,377.94 L531.84,375.80 L531.86,375.70 L532.36,373.60 L532.38,373.51 L532.88,371.56 L532.90,371.48 L533.40,369.80 L533.42,369.73 L533.92,368.23 L533.94,368.17 L534.44,366.76 L534.47,366.71 L534.97,365.52 L534.99,365.48 L535.49,364.64 L535.51,364.61 L536.01,364.00 L536.03,363.98 L536.53,363.44 L536.55,363.42 L537.05,363.01 L537.07,363.00 L537.57,362.81 L537.60,362.81 L537.70,362.80 L538.16,362.95 L538.63,363.33 L539.09,363.86 L539.55,364.46 L539.65,364.58 L540.11,365.32 L540.57,366.28 L541.04,367.36 L541.32,368.04 L541.78,369.23 L542.24,370.54 L542.71,371.95 L543.17,373.43 L543.63,374.97 L544.10,376.53 L544.56,378.10 L544.74,378.73 L545.21,380.35 L545.67,382.07 L546.14,383.84 L546.60,385.63 L547.06,387.40 L547.53,389.10 L547.99,390.70 L548.17,391.30 L548.64,392.79 L549.10,394.28 L549.57,395.74 L550.03,397.13 L550.49,398.43 L550.96,399.60 L551.42,400.60 L551.60,400.94 L552.07,401.79 L552.53,402.63 L552.99,403.39 L553.46,403.98 L553.92,404.34 L554.20,404.40 L554.69,404.34 L555.19,404.15 L555.68,403.88 L556.17,403.52 L556.66,403.09 L557.16,402.63 L557.65,402.14 L557.85,401.94 L558.34,401.33 L558.83,400.52 L559.33,399.55 L559.82,398.45 L560.31,397.25 L560.81,395.99 L561.30,394.71 L561.79,393.44 L562.28,392.21 L562.38,391.98 L562.88,390.75 L563.37,389.46 L563.86,388.11 L564.35,386.74 L564.85,385.36 L565.34,384.01 L565.83,382.70 L566.33,381.46 L566.82,380.31 L566.92,380.09 L567.41,379.01 L567.90,377.93 L568.40,376.88 L568.89,375.89 L569.38,374.97 L569.88,374.15 L570.37,373.47 L570.57,373.23 L571.06,372.68 L571.55,372.13 L572.04,371.60 L572.54,371.11 L573.03,370.66 L573.52,370.29 L574.02,369.99 L574.51,369.79 L575.00,369.70 L575.10,369.70 L575.59,369.74 L576.08,369.86 L576.57,370.04 L577.06,370.28 L577.55,370.57 L578.04,370.90 L578.53,371.27 L579.02,371.66 L579.51,372.07 L579.61,372.15 L580.10,372.65 L580.59,373.32 L581.08,374.12 L581.57,375.04 L582.06,376.06 L582.54,377.15 L583.03,378.29 L583.52,379.46 L584.01,380.63 L584.21,381.10 L584.70,382.38 L585.19,383.84 L585.68,385.43 L586.17,387.10 L586.66,388.79 L587.15,390.44 L587.64,392.01 L588.13,393.42 L588.62,394.63 L588.72,394.84 L589.21,395.83 L589.70,396.73 L590.19,397.54 L590.68,398.27 L590.97,398.68 L591.46,399.37 L591.95,400.09 L592.44,400.79 L592.93,401.41 L593.42,401.90 L593.91,402.22 L594.30,402.30 L594.79,402.17 L595.28,401.80 L595.77,401.24 L596.25,400.54 L596.74,399.74 L597.23,398.87 L597.72,398.00 L598.21,397.16 L598.31,397.00 L598.79,396.16 L599.28,395.22 L599.77,394.22 L600.26,393.16 L600.75,392.07 L601.24,390.96 L601.73,389.86 L602.21,388.78 L602.41,388.36 L602.90,387.28 L603.39,386.12 L603.87,384.94 L604.36,383.77 L604.85,382.64 L605.34,381.58 L605.83,380.65 L606.32,379.86 L606.41,379.72 L606.90,379.06 L607.39,378.39 L607.88,377.73 L608.37,377.11 L608.86,376.54 L609.35,376.03 L609.83,375.60 L610.32,375.28 L610.81,375.07 L611.30,375.00 L611.80,375.04 L611.82,375.04 L612.32,375.15 L612.34,375.16 L612.84,375.34 L612.86,375.34 L613.36,375.58 L613.38,375.59 L613.88,375.87 L613.90,375.89 L614.40,376.21 L614.42,376.23 L614.92,376.59 L614.94,376.60 L615.44,376.99 L615.46,377.00 L615.96,377.41 L615.98,377.42 L616.48,377.83 L616.50,377.85 L617.00,378.35 L617.02,378.37 L617.52,379.02 L617.54,379.05 L618.04,379.82 L618.06,379.85 L618.56,380.72 L618.58,380.75 L619.08,381.69 L619.10,381.73 L619.60,382.72 L619.62,382.76 L620.12,383.76 L620.14,383.80 L620.64,384.79 L620.66,384.83 L621.16,385.79 L621.18,385.83 L621.68,386.73 L621.70,386.76 L622.20,387.65 L622.22,387.69 L622.72,388.64 L622.74,388.68 L623.24,389.67 L623.26,389.71 L623.76,390.71 L623.78,390.75 L624.28,391.73 L624.30,391.76 L624.80,392.70 L624.82,392.74 L625.32,393.61 L625.34,393.64 L625.84,394.42 L625.86,394.45 L626.36,395.11 L626.38,395.14 L626.88,395.65 L626.90,395.67 L627.40,396.10 L627.42,396.12 L627.92,396.55 L627.94,396.56 L628.44,396.97 L628.46,396.99 L628.96,397.37 L628.98,397.39 L629.48,397.74 L629.50,397.75 L630.00,398.06 L630.02,398.07 L630.52,398.32 L630.54,398.33 L631.04,398.52 L631.06,398.53 L631.56,398.65 L631.58,398.66 L632.08,398.70 L632.10,398.70 L632.60,398.68 L633.10,398.63 L633.60,398.54 L634.10,398.43 L634.60,398.30 L635.10,398.16 L635.30,398.10 L635.80,397.86 L636.30,397.49 L636.80,397.00 L637.30,396.42 L637.80,395.77 L638.30,395.08 L638.80,394.37 L639.30,393.66 L639.80,392.98 L640.30,392.35 L640.80,391.74 L641.30,391.11 L641.80,390.46 L642.30,389.81 L642.80,389.16 L643.30,388.52 L643.80,387.89 L644.30,387.28 L644.80,386.70 L645.30,386.15 L645.80,385.60 L646.30,385.01 L646.80,384.40 L647.30,383.79 L647.80,383.19 L648.30,382.61 L648.80,382.07 L649.30,381.57 L649.80,381.15 L650.30,380.81 L650.80,380.56 L651.30,380.42 L651.60,380.40 L652.10,380.45 L652.12,380.46 L652.62,380.61 L652.65,380.62 L653.15,380.86 L653.17,380.88 L653.67,381.19 L653.70,381.21 L654.20,381.59 L654.22,381.61 L654.72,382.03 L654.75,382.05 L655.25,382.51 L655.27,382.53 L655.77,383.01 L655.80,383.04 L656.30,383.52 L656.32,383.55 L656.82,384.03 L656.85,384.05 L657.27,384.44 L657.77,384.93 L657.79,384.95 L658.29,385.51 L658.32,385.54 L658.82,386.15 L658.84,386.18 L659.34,386.83 L659.37,386.86 L659.87,387.53 L659.89,387.57 L660.39,388.24 L660.41,388.28 L660.91,388.94 L660.94,388.98 L661.44,389.62 L661.46,389.65 L661.96,390.25 L661.99,390.28 L662.49,390.83 L662.51,390.85 L663.01,391.39 L663.04,391.42 L663.54,391.99 L663.56,392.01 L664.06,392.60 L664.09,392.63 L664.59,393.22 L664.61,393.25 L665.11,393.82 L665.14,393.85 L665.64,394.39 L665.66,394.42 L666.16,394.91 L666.19,394.94 L666.69,395.37 L666.71,395.39 L667.21,395.74 L667.24,395.76 L667.74,396.02 L667.76,396.03 L668.26,396.17 L668.29,396.17 L668.60,396.20 L669.07,396.19 L669.54,396.15 L670.01,396.08 L670.48,395.99 L670.95,395.89 L671.42,395.76 L671.90,395.62 L672.37,395.46 L672.84,395.29 L673.31,395.12 L673.78,394.93 L674.06,394.81 L674.53,394.58 L675.00,394.29 L675.47,393.93 L675.94,393.51 L676.42,393.05 L676.89,392.53 L677.36,391.98 L677.83,391.39 L678.30,390.77 L678.77,390.13 L679.24,389.38 L679.71,388.47 L680.18,387.44 L680.65,386.37 L681.12,385.31 L681.50,384.50" stroke="#b076e0" stroke-width="2.6"/>
<path d="M414.80,386.40 L415.30,386.26 L415.80,386.10 L416.30,385.93 L416.80,385.76 L417.30,385.59 L417.80,385.43 L418.30,385.30 L418.80,385.19 L419.30,385.12 L419.80,385.10 L420.30,385.14 L420.80,385.26 L421.30,385.43 L421.80,385.63 L422.30,385.86 L422.80,386.08 L423.30,386.29 L423.80,386.46 L424.30,386.57 L424.50,386.60 L425.00,386.65 L425.50,386.70 L426.00,386.75 L426.50,386.79 L427.00,386.82 L427.50,386.85 L428.00,386.88 L428.50,386.89 L429.00,386.90 L429.20,386.90 L429.70,386.87 L430.20,386.77 L430.70,386.63 L431.20,386.44 L431.70,386.23 L432.20,386.00 L432.70,385.77 L433.20,385.54 L433.30,385.50 L433.80,385.26 L434.30,384.99 L434.80,384.68 L435.30,384.36 L435.80,384.04 L436.30,383.72 L436.80,383.42 L437.30,383.15 L437.40,383.10 L437.90,382.87 L438.40,382.66 L438.90,382.46 L439.40,382.27 L439.90,382.08 L440.40,381.87 L440.90,381.65 L441.40,381.40 L441.90,381.12 L442.40,380.82 L442.90,380.49 L443.40,380.13 L443.90,379.74 L444.40,379.30 L444.90,378.80 L445.40,378.22 L445.90,377.58 L446.40,376.87 L446.90,376.11 L447.40,375.30 L447.90,374.42 L448.40,373.44 L448.90,372.38 L449.40,371.24 L449.90,370.03 L450.40,368.76 L450.80,367.70 L451.30,366.25 L451.80,364.62 L452.30,362.87 L452.80,361.08 L453.30,359.29 L453.80,357.57 L454.10,356.60 L454.60,354.93 L455.10,353.17 L455.60,351.46 L456.10,349.94 L456.60,348.78 L456.90,348.30 L457.40,347.69 L457.90,347.15 L458.40,346.74 L458.90,346.52 L459.10,346.50 L459.60,346.64 L460.10,347.03 L460.60,347.62 L461.10,348.38 L461.40,348.90 L461.90,350.56 L462.40,353.43 L462.90,356.99 L463.40,360.75 L463.60,362.20 L464.10,365.96 L464.60,370.12 L465.10,374.58 L465.20,375.50 L465.70,380.47 L466.20,385.80 L466.60,390.00 L467.10,395.07 L467.60,400.09 L468.10,405.04 L468.30,407.00 L468.80,411.78 L469.30,416.48 L469.80,421.24 L470.00,423.20 L470.50,428.44 L471.00,433.99 L471.50,439.49 L472.00,444.58 L472.40,448.10 L472.90,452.33 L473.40,456.69 L473.90,460.71 L474.40,463.92 L474.90,465.85 L475.20,466.20 L475.70,465.88 L476.20,465.01 L476.70,463.75 L477.20,462.26 L477.60,461.00 L478.10,459.08 L478.60,456.56 L479.10,453.56 L479.60,450.22 L479.90,448.10 L480.40,444.13 L480.90,439.49 L481.40,434.35 L481.90,428.86 L482.40,423.20 L482.90,417.26 L483.40,410.88 L483.90,404.15 L484.40,397.16 L484.90,390.00 L485.40,382.19 L485.90,374.06 L486.30,368.20 L486.80,361.62 L487.30,355.32 L487.80,349.48 L488.30,344.28 L488.80,339.90 L489.30,336.04 L489.80,332.41 L490.30,329.21 L490.80,326.68 L491.30,325.00 L491.80,323.87 L492.30,322.91 L492.80,322.25 L493.30,322.00 L493.80,322.27 L494.30,323.00 L494.80,324.05 L495.30,325.29 L495.50,325.80 L496.00,327.57 L496.50,330.10 L497.00,333.03 L497.50,336.05 L497.90,338.30 L498.40,340.98 L498.90,343.71 L499.40,346.47 L499.90,349.21 L500.40,351.90 L500.90,354.50 L501.30,356.50 L501.80,358.94 L502.30,361.38 L502.80,363.78 L503.30,366.12 L503.80,368.39 L504.30,370.54 L504.80,372.57 L505.30,374.45 L505.40,374.80 L505.90,376.51 L506.40,378.15 L506.90,379.71 L507.40,381.21 L507.90,382.64 L508.40,384.02 L508.90,385.34 L509.40,386.61 L509.90,387.84 L510.30,388.80 L510.80,389.97 L511.30,391.11 L511.80,392.21 L512.30,393.27 L512.80,394.29 L513.30,395.26 L513.80,396.17 L514.30,397.02 L514.60,397.50 L515.10,398.30 L515.60,399.14 L516.10,399.99 L516.60,400.82 L517.10,401.60 L517.60,402.33 L518.10,402.96 L518.60,403.48 L519.10,403.85 L519.60,404.06 L519.90,404.10 L520.40,404.03 L520.90,403.83 L521.40,403.52 L521.90,403.11 L522.40,402.60 L522.90,402.02 L523.40,401.38 L523.90,400.68 L524.30,400.10 L524.80,399.10 L525.30,397.67 L525.80,395.90 L526.30,393.90 L526.80,391.76 L527.30,389.60 L527.80,387.50 L528.30,385.34 L528.80,383.01 L529.30,380.63 L529.80,378.35 L530.00,377.50 L530.50,375.40 L531.00,373.35 L531.50,371.44 L532.00,369.80 L532.50,368.33 L533.00,366.96 L533.50,365.81 L534.00,365.00 L534.50,364.40 L535.00,363.88 L535.50,363.49 L536.00,363.31 L536.10,363.30 L536.60,363.44 L537.10,363.81 L537.60,364.32 L538.10,364.89 L538.20,365.00 L538.70,365.70 L539.20,366.62 L539.70,367.65 L540.00,368.30 L540.50,369.44 L541.00,370.69 L541.50,372.03 L542.00,373.45 L542.50,374.91 L543.00,376.40 L543.50,377.90 L543.70,378.50 L544.20,380.05 L544.70,381.69 L545.20,383.38 L545.70,385.09 L546.20,386.77 L546.70,388.40 L547.20,389.93 L547.40,390.50 L547.90,391.92 L548.40,393.34 L548.90,394.73 L549.40,396.07 L549.90,397.30 L550.40,398.41 L550.90,399.37 L551.10,399.70 L551.60,400.51 L552.10,401.31 L552.60,402.04 L553.10,402.60 L553.60,402.94 L553.90,403.00 L554.40,402.94 L554.90,402.77 L555.40,402.51 L555.90,402.17 L556.40,401.78 L556.90,401.35 L557.40,400.89 L557.60,400.70 L558.10,400.13 L558.60,399.38 L559.10,398.47 L559.60,397.44 L560.10,396.32 L560.60,395.15 L561.10,393.96 L561.60,392.77 L562.10,391.62 L562.20,391.40 L562.70,390.26 L563.20,389.05 L563.70,387.79 L564.20,386.51 L564.70,385.22 L565.20,383.96 L565.70,382.74 L566.20,381.58 L566.70,380.50 L566.80,380.30 L567.30,379.29 L567.80,378.29 L568.30,377.31 L568.80,376.38 L569.30,375.52 L569.80,374.76 L570.30,374.12 L570.50,373.90 L571.00,373.38 L571.50,372.87 L572.00,372.37 L572.50,371.91 L573.00,371.50 L573.50,371.15 L574.00,370.87 L574.50,370.68 L575.00,370.60 L575.10,370.60 L575.60,370.64 L576.10,370.75 L576.60,370.92 L577.10,371.14 L577.60,371.42 L578.10,371.73 L578.60,372.07 L579.10,372.44 L579.60,372.82 L579.70,372.90 L580.20,373.37 L580.70,374.00 L581.20,374.75 L581.70,375.62 L582.20,376.57 L582.70,377.59 L583.20,378.66 L583.70,379.76 L584.20,380.86 L584.40,381.30 L584.90,382.50 L585.40,383.87 L585.90,385.37 L586.40,386.93 L586.90,388.52 L587.40,390.07 L587.90,391.54 L588.40,392.86 L588.90,394.00 L589.00,394.20 L589.50,395.13 L590.00,395.97 L590.50,396.73 L591.00,397.42 L591.30,397.80 L591.80,398.45 L592.30,399.13 L592.80,399.78 L593.30,400.37 L593.80,400.83 L594.30,401.12 L594.70,401.20 L595.20,401.09 L595.70,400.77 L596.20,400.28 L596.70,399.67 L597.20,398.97 L597.70,398.23 L598.20,397.47 L598.70,396.74 L598.80,396.60 L599.30,395.87 L599.80,395.06 L600.30,394.18 L600.80,393.26 L601.30,392.32 L601.80,391.36 L602.30,390.40 L602.80,389.46 L603.00,389.10 L603.50,388.16 L604.00,387.16 L604.50,386.13 L605.00,385.11 L605.50,384.13 L606.00,383.22 L606.50,382.40 L607.00,381.72 L607.10,381.60 L607.60,381.02 L608.10,380.44 L608.60,379.87 L609.10,379.33 L609.60,378.83 L610.10,378.39 L610.60,378.02 L611.10,377.74 L611.60,377.56 L612.10,377.50 L612.60,377.52 L613.10,377.59 L613.60,377.69 L614.10,377.83 L614.60,378.00 L615.10,378.19 L615.60,378.40 L616.10,378.62 L616.60,378.86 L617.10,379.10 L617.60,379.39 L618.10,379.77 L618.60,380.22 L619.10,380.73 L619.60,381.28 L620.10,381.85 L620.60,382.44 L621.10,383.02 L621.60,383.58 L622.10,384.10 L622.60,384.62 L623.10,385.18 L623.60,385.76 L624.10,386.34 L624.60,386.91 L625.10,387.45 L625.60,387.96 L626.10,388.42 L626.60,388.80 L627.10,389.10 L627.60,389.35 L628.10,389.60 L628.60,389.84 L629.10,390.06 L629.60,390.27 L630.10,390.45 L630.60,390.59 L631.10,390.70 L631.60,390.78 L632.10,390.80 L632.60,390.79 L633.10,390.75 L633.60,390.69 L634.10,390.62 L634.60,390.54 L635.10,390.44 L635.30,390.40 L635.80,390.25 L636.30,390.00 L636.80,389.68 L637.30,389.29 L637.80,388.87 L638.30,388.41 L638.80,387.94 L639.30,387.47 L639.80,387.02 L640.30,386.60 L640.80,386.20 L641.30,385.78 L641.80,385.35 L642.30,384.92 L642.80,384.49 L643.30,384.07 L643.80,383.65 L644.30,383.25 L644.80,382.86 L645.30,382.50 L645.80,382.14 L646.30,381.75 L646.80,381.35 L647.30,380.94 L647.80,380.54 L648.30,380.16 L648.80,379.80 L649.30,379.48 L649.80,379.20 L650.30,378.97 L650.80,378.81 L651.30,378.72 L651.60,378.70 L652.10,378.75 L652.60,378.89 L653.10,379.10 L653.60,379.38 L654.10,379.72 L654.60,380.09 L655.10,380.50 L655.60,380.92 L656.10,381.35 L656.60,381.77 L657.00,382.10 L657.50,382.53 L658.00,383.03 L658.50,383.57 L659.00,384.14 L659.50,384.73 L660.00,385.33 L660.50,385.92 L661.00,386.49 L661.50,387.02 L662.00,387.50 L662.50,387.97 L663.00,388.48 L663.50,388.99 L664.00,389.51 L664.50,390.02 L665.00,390.50 L665.50,390.94 L666.00,391.32 L666.50,391.63 L667.00,391.85 L667.50,391.98 L667.80,392.00 L668.30,391.98 L668.80,391.94 L669.30,391.86 L669.80,391.76 L670.30,391.64 L670.80,391.49 L671.30,391.33 L671.80,391.15 L672.30,390.95 L672.80,390.75 L673.30,390.53 L673.60,390.40 L674.10,390.14 L674.60,389.79 L675.10,389.38 L675.60,388.90 L676.10,388.36 L676.60,387.77 L677.10,387.13 L677.60,386.45 L678.10,385.74 L678.60,385.00 L679.10,384.13 L679.60,383.08 L680.10,381.90 L680.60,380.66 L681.10,379.43 L681.50,378.50" stroke="#35aa67" stroke-width="2.6"/>
</g>
<rect x="528.6" y="415.8" width="136.6" height="74.9" fill="#fff" stroke="#b4b4b4" stroke-width="1"/>
<text x="542.70" y="433.6" font-size="13.6" fill="#000" font-weight="bold" textLength="116.23" lengthAdjust="spacingAndGlyphs">Pump polarization</text>
<path d="M541.8,446.8 H576.9" stroke="#35aa67" stroke-width="2.2"/>
<text x="580.10" y="451.8" font-size="13.8" fill="#000" textLength="35.70" lengthAdjust="spacingAndGlyphs">Linear</text>
<path d="M541.8,464.1 H576.9" stroke="#b076e0" stroke-width="2.2"/>
<text x="580.10" y="469.2" font-size="13.8" fill="#000" textLength="70.27" lengthAdjust="spacingAndGlyphs">Left-handed</text>
<path d="M541.8,482.1 H576.9" stroke="#cf9a05" stroke-width="2.2"/>
<text x="580.10" y="485.9" font-size="13.8" fill="#000" textLength="78.79" lengthAdjust="spacingAndGlyphs">Right-handed</text>
<rect x="586.1" y="289.4" width="86.5" height="69.0" fill="#fff" stroke="#bdbdbd" stroke-width="1"/>
<path d="M594.10,358.4 v1.8 M594.10,289.4 v1.8 M607.20,358.4 v1.8 M607.20,289.4 v1.8 M620.30,358.4 v1.8 M620.30,289.4 v1.8 M633.40,358.4 v1.8 M633.40,289.4 v1.8 M646.50,358.4 v1.8 M646.50,289.4 v1.8 M659.60,358.4 v1.8 M659.60,289.4 v1.8 M586.1,352.20 h-1.8 M672.6,352.20 h-1.8 M586.1,346.00 h-1.8 M672.6,346.00 h-1.8 M586.1,339.80 h-1.8 M672.6,339.80 h-1.8 M586.1,333.60 h-1.8 M672.6,333.60 h-1.8 M586.1,327.40 h-1.8 M672.6,327.40 h-1.8 M586.1,321.20 h-1.8 M672.6,321.20 h-1.8 M586.1,315.00 h-1.8 M672.6,315.00 h-1.8 M586.1,308.80 h-1.8 M672.6,308.80 h-1.8 M586.1,302.60 h-1.8 M672.6,302.60 h-1.8 M586.1,296.40 h-1.8 M672.6,296.40 h-1.8 " stroke="#9a9a9a" stroke-width="0.8" fill="none"/>
<text x="607.2" y="367.7" font-size="7.8" text-anchor="middle" fill="#222" >1</text>
<text x="633.4" y="367.7" font-size="7.8" text-anchor="middle" fill="#222" >2</text>
<text x="659.6" y="367.7" font-size="7.8" text-anchor="middle" fill="#222" >3</text>
<text x="594.0" y="374.8" font-size="9.4" text-anchor="start" fill="#000" font-weight="bold" textLength="71.2" lengthAdjust="spacingAndGlyphs" >Frequency (THz)</text>
<text x="0" y="0" font-size="9.4" transform="translate(579.0,344.7) rotate(-90)" font-weight="bold" textLength="45" lengthAdjust="spacingAndGlyphs">Amplitude</text>
<polyline points="586.9,353.6 589.3,350.5 591.3,355.6 593.3,349.6 595.3,345.2 597.3,339.2 599.3,334.3 601.3,334.6 603.3,331.9 605.3,325.7 607.3,321.9 609.3,317.3 611.3,295.7 613.3,326.6 615.3,339 617.3,338.2 619.3,341.2 621.3,339.2 623.2,344.5 625.2,345.6 627.2,343.9 629.2,343 631.2,347.5 633.2,352.8 635.2,353.6 637.2,354.8 639.2,357.2 641.2,357.6 643.2,357.6 645.2,357.2 647.2,357.6 649.2,357.6 651.2,357.2 653.2,357.6 655.2,357.6 657.2,357.2 659.2,357.6 661.2,357.6 663.2,357.2 665.2,357.6 667.2,357.6 669.2,357.2 671.2,357.6" fill="none" stroke="#35aa67" stroke-width="1.5" stroke-linejoin="round"/>
<circle cx="586.9" cy="353.6" r="1.6" fill="#35aa67"/>
<circle cx="589.3" cy="350.5" r="1.6" fill="#35aa67"/>
<circle cx="591.3" cy="355.6" r="1.6" fill="#35aa67"/>
<circle cx="593.3" cy="349.6" r="1.6" fill="#35aa67"/>
<circle cx="595.3" cy="345.2" r="1.6" fill="#35aa67"/>
<circle cx="597.3" cy="339.2" r="1.6" fill="#35aa67"/>
<circle cx="599.3" cy="334.3" r="1.6" fill="#35aa67"/>
<circle cx="601.3" cy="334.6" r="1.6" fill="#35aa67"/>
<circle cx="603.3" cy="331.9" r="1.6" fill="#35aa67"/>
<circle cx="605.3" cy="325.7" r="1.6" fill="#35aa67"/>
<circle cx="607.3" cy="321.9" r="1.6" fill="#35aa67"/>
<circle cx="609.3" cy="317.3" r="1.6" fill="#35aa67"/>
<circle cx="611.3" cy="295.7" r="1.6" fill="#35aa67"/>
<circle cx="613.3" cy="326.6" r="1.6" fill="#35aa67"/>
<circle cx="615.3" cy="339" r="1.6" fill="#35aa67"/>
<circle cx="617.3" cy="338.2" r="1.6" fill="#35aa67"/>
<circle cx="619.3" cy="341.2" r="1.6" fill="#35aa67"/>
<circle cx="621.3" cy="339.2" r="1.6" fill="#35aa67"/>
<circle cx="623.2" cy="344.5" r="1.6" fill="#35aa67"/>
<circle cx="625.2" cy="345.6" r="1.6" fill="#35aa67"/>
<circle cx="627.2" cy="343.9" r="1.6" fill="#35aa67"/>
<circle cx="629.2" cy="343" r="1.6" fill="#35aa67"/>
<circle cx="631.2" cy="347.5" r="1.6" fill="#35aa67"/>
<circle cx="633.2" cy="352.8" r="1.6" fill="#35aa67"/>
<circle cx="635.2" cy="353.6" r="1.6" fill="#35aa67"/>
<circle cx="637.2" cy="354.8" r="1.6" fill="#35aa67"/>
<circle cx="639.2" cy="357.2" r="1.6" fill="#35aa67"/>
<circle cx="641.2" cy="357.6" r="1.6" fill="#35aa67"/>
<circle cx="643.2" cy="357.6" r="1.6" fill="#35aa67"/>
<circle cx="645.2" cy="357.2" r="1.6" fill="#35aa67"/>
<circle cx="647.2" cy="357.6" r="1.6" fill="#35aa67"/>
<circle cx="649.2" cy="357.6" r="1.6" fill="#35aa67"/>
<circle cx="651.2" cy="357.2" r="1.6" fill="#35aa67"/>
<circle cx="653.2" cy="357.6" r="1.6" fill="#35aa67"/>
<circle cx="655.2" cy="357.6" r="1.6" fill="#35aa67"/>
<circle cx="657.2" cy="357.2" r="1.6" fill="#35aa67"/>
<circle cx="659.2" cy="357.6" r="1.6" fill="#35aa67"/>
<circle cx="661.2" cy="357.6" r="1.6" fill="#35aa67"/>
<circle cx="663.2" cy="357.2" r="1.6" fill="#35aa67"/>
<circle cx="665.2" cy="357.6" r="1.6" fill="#35aa67"/>
<circle cx="667.2" cy="357.6" r="1.6" fill="#35aa67"/>
<circle cx="669.2" cy="357.2" r="1.6" fill="#35aa67"/>
<circle cx="671.2" cy="357.6" r="1.6" fill="#35aa67"/>
</svg>
</body></html>
